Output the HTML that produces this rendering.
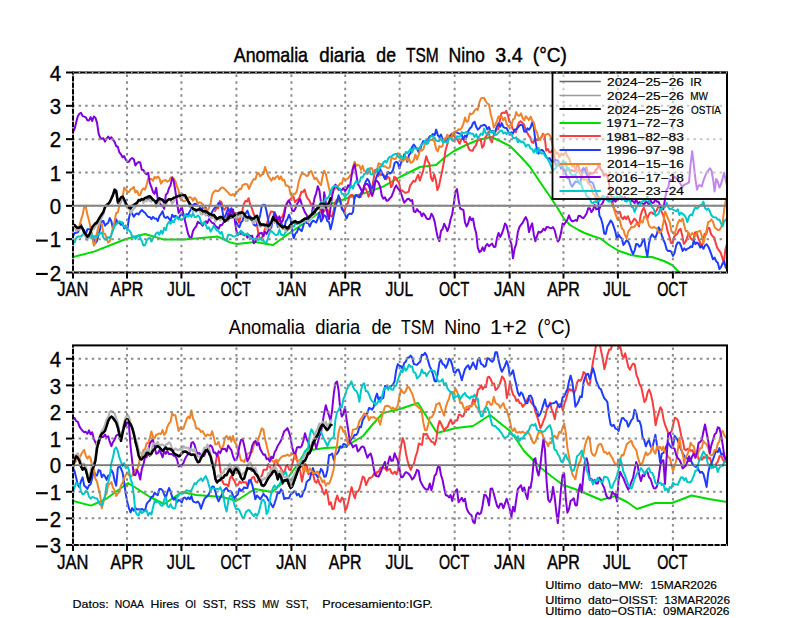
<!DOCTYPE html>
<html><head><meta charset="utf-8"><title>Anomalia diaria de TSM</title><style>
html,body{margin:0;padding:0;background:#fff;}
body{width:800px;height:618px;overflow:hidden;}
svg{display:block;}
text{font-family:"Liberation Sans",sans-serif;fill:#000;white-space:pre;}
.gd{stroke:#8c8c8c;stroke-width:2;stroke-dasharray:2.5 4.04;}
.gh{stroke-dashoffset:0.9;}
.go{stroke:#a8a8a8;stroke-width:2;stroke-dasharray:1.6 4.94;}
.gv{stroke-dashoffset:-2.1;}
.yl{font-size:22.2px;stroke:#000;stroke-width:0.35px;}
.tt1{stroke:#000;stroke-width:0.45px;}
.tt2{stroke:#000;stroke-width:0.1px;}
.xl{stroke:#000;stroke-width:0.45px;}
.ft{stroke:#000;stroke-width:0.2px;}
.lg{stroke:#000;stroke-width:0.2px;}
</style></head><body>
<svg width="800" height="618" viewBox="0 0 800 618">
<defs>
<clipPath id="c1"><rect x="73.00" y="72.50" width="654.00" height="200.00"/></clipPath>
<clipPath id="c2"><rect x="73.00" y="345.40" width="654.00" height="199.60"/></clipPath>
</defs>
<rect width="800" height="618" fill="#fff"/>
<g clip-path="url(#c1)">
<polyline points="73.0,257.0 94.0,251.6 126.0,239.0 145.0,234.0 164.0,239.6 184.0,239.6 218.0,236.6 230.0,242.4 237.0,244.0 255.0,242.0 273.0,245.0 291.0,232.0 300.0,226.0 309.0,220.0 331.0,204.0 353.0,196.0 362.6,193.9 383.0,186.6 400.0,177.0 420.0,167.0 436.0,165.0 444.0,158.0 454.0,151.0 466.0,145.0 478.0,140.0 491.0,137.0 500.0,141.0 510.0,146.0 520.0,156.0 530.0,167.0 540.0,182.0 550.0,196.5 558.0,208.7 564.0,218.8 570.0,225.0 578.5,230.0 584.6,233.0 592.7,236.0 600.8,238.6 609.0,245.0 619.0,251.0 631.0,255.0 643.0,257.0 652.0,257.0 664.0,261.0 672.0,265.0 678.0,271.0 682.0,276.0" fill="none" stroke="#00dc00" stroke-width="2" stroke-linejoin="round" stroke-linecap="round"/>
<polyline points="215.0,211.1 216.6,208.1 218.2,208.3 219.8,201.0 221.4,202.1 223.0,208.6 224.6,209.6 226.2,207.3 227.8,207.3 229.4,213.4 231.0,215.8 232.6,213.5 234.2,212.8 235.8,216.1 237.4,217.2 239.0,222.6 240.6,217.1 242.2,211.1 243.8,204.2 245.4,200.9 247.0,201.5 248.6,198.2 250.2,204.7 251.8,208.1 253.4,213.2 255.0,217.0 256.6,222.0 258.2,232.8 259.8,239.1 261.4,238.9 263.0,235.2 264.6,229.8 266.2,226.7 267.8,220.2 269.4,215.5 271.0,211.5 272.6,211.7 274.2,212.6 275.8,214.6 277.4,219.2 279.0,221.8 280.6,217.8 282.2,217.1 283.8,212.8 285.4,206.1 287.0,203.4 288.6,200.3 290.2,199.4 291.8,197.7 293.4,196.5 295.0,202.2 296.6,200.3 298.2,199.4 299.8,196.9 301.4,191.8 303.0,191.9 304.6,189.6 306.2,195.5 307.8,198.7 309.4,200.4 311.0,204.5 312.6,203.9 314.2,208.3 315.8,210.2 317.4,208.5 319.0,205.8 320.6,210.6 322.2,213.9 323.8,211.5 325.4,209.9 327.0,207.4 328.6,213.4 330.2,215.6 331.8,216.6 333.4,211.9 335.0,203.5 336.6,199.8 338.2,199.7 339.8,197.9 341.4,205.0 343.0,209.8 344.6,211.5 346.2,204.4 347.8,203.5 349.4,196.3 351.0,194.9 352.6,195.0 354.2,199.1 355.8,195.0 357.4,195.3 359.0,195.3 360.6,197.0 362.2,193.3 363.8,189.1 365.4,188.0 367.0,191.6 368.6,196.6 370.2,193.1 371.8,188.5 373.4,180.4 375.0,170.4 376.6,169.3 378.2,176.2 379.8,173.9 381.4,175.1 383.0,174.8 384.6,175.6 386.2,179.3 387.8,176.9 389.4,178.1 391.0,187.2 392.6,185.0 394.2,176.9 395.8,177.7 397.4,180.7 399.0,182.5 400.6,190.4 402.2,190.6 403.8,191.8 405.4,192.9 407.0,192.4 408.6,191.7 410.2,185.3 411.8,183.3 413.4,180.7 415.0,181.8 416.6,178.2 418.2,174.8 419.8,180.6 421.4,175.9 423.0,171.4 424.6,163.7 426.2,156.3 427.8,160.9 429.4,163.9 431.0,177.9 432.6,181.0 434.2,174.3 435.8,179.9 437.4,190.1 439.0,186.0 440.6,178.0 442.2,171.1 443.8,162.3 445.4,151.0 447.0,145.2 448.6,138.9 450.2,135.5 451.8,133.6 453.4,133.7 455.0,137.7 456.6,138.5 458.2,141.2 459.8,143.6 461.4,139.0 463.0,137.7 464.6,142.1 466.2,141.7 467.8,145.9 469.4,149.9 471.0,150.6 472.6,150.8 474.2,147.2 475.8,145.6 477.4,140.8 479.0,139.9 480.6,139.0 482.2,147.7 483.8,145.4 485.4,137.4 487.0,135.0 488.6,131.6 490.2,139.4 491.8,142.4 493.4,136.1 495.0,132.7 496.6,129.3 498.2,129.2 499.8,120.8 501.4,113.4 503.0,112.5 504.6,113.1 506.2,110.9 507.8,114.8 509.4,121.4 511.0,123.1 512.6,128.9 514.2,130.7 515.8,132.2 517.4,126.5 519.0,122.5 520.6,121.2 522.2,122.6 523.8,124.3 525.4,128.7 527.0,132.6 528.6,135.3 530.2,137.4 531.8,142.3 533.4,142.9 535.0,138.1 536.6,139.9 538.2,140.0 539.8,138.6 541.4,137.6 543.0,133.9 544.6,135.4 546.2,150.6 547.8,149.0 549.4,152.3 551.0,152.0 552.6,149.9 554.2,156.3 555.8,165.5 557.4,166.2 559.0,164.5 560.6,165.5 562.2,166.9 563.8,172.0 565.4,172.2 567.0,167.8 568.6,170.4 570.2,170.2 571.8,170.1 573.4,171.2 575.0,171.3 576.6,166.1 578.2,164.5 579.8,171.2 581.4,170.4 583.0,168.5 584.6,169.2 586.2,167.4 587.8,172.7 589.4,175.0 591.0,173.0 592.6,173.5 594.2,172.5 595.8,170.1 597.4,168.6 599.0,163.7 600.6,169.4 602.2,170.7 603.8,175.8 605.4,173.8 607.0,175.1 608.6,180.6 610.2,191.3 611.8,197.7 613.4,206.6 615.0,210.7 616.6,211.7 618.2,212.4 619.8,211.8 621.4,217.2 623.0,219.2 624.6,216.6 626.2,219.1 627.8,216.2 629.4,220.2 631.0,224.0 632.6,221.5 634.2,218.7 635.8,220.1 637.4,222.7 639.0,226.3 640.6,215.5 642.2,210.6 643.8,207.6 645.4,212.3 647.0,219.4 648.6,215.1 650.2,212.5 651.8,212.5 653.4,214.0 655.0,212.4 656.6,210.4 658.2,207.0 659.8,205.6 661.4,211.3 663.0,214.9 664.6,220.2 666.2,224.8 667.8,232.2 669.4,236.5 671.0,242.9 672.6,243.3 674.2,236.5 675.8,234.9 677.4,233.7 679.0,230.1 680.6,228.8 682.2,235.4 683.8,243.8 685.4,242.1 687.0,238.2 688.6,232.9 690.2,237.5 691.8,239.7 693.4,239.5 695.0,232.4 696.6,232.1 698.2,238.1 699.8,241.6 701.4,246.9 703.0,242.5 704.6,233.8 706.2,234.4 707.8,228.3 709.4,228.0 711.0,233.9 712.6,236.3 714.2,237.3 715.8,243.4 717.4,248.1 719.0,250.3 720.6,252.6 722.2,257.3 723.8,263.6 725.4,249.3 727.0,243.8 728.0,240.0" fill="none" stroke="#fa3c3c" stroke-width="2" stroke-linejoin="round" stroke-linecap="round"/>
<polyline points="73.0,236.7 74.6,232.9 76.2,232.9 77.8,232.4 79.4,229.2 81.0,224.3 82.6,228.6 84.2,230.3 85.8,234.1 87.4,229.2 89.0,229.3 90.6,229.2 92.2,237.3 93.8,239.2 95.4,243.3 97.0,240.9 98.6,234.4 100.2,228.5 101.8,221.3 103.4,220.9 105.0,225.7 106.6,223.8 108.2,222.8 109.8,218.1 111.4,221.4 113.0,229.0 114.6,224.4 116.2,219.4 117.8,222.9 119.4,222.6 121.0,224.8 122.6,222.6 124.2,228.5 125.8,226.3 127.4,229.5 129.0,217.8 130.6,211.6 132.2,213.7 133.8,216.8 135.4,214.4 137.0,213.4 138.6,214.4 140.2,211.8 141.8,210.1 143.4,211.6 145.0,212.7 146.6,215.0 148.2,217.0 149.8,217.0 151.4,219.3 153.0,216.9 154.6,218.6 156.2,218.5 157.8,221.0 159.4,216.3 161.0,214.0 162.6,211.2 164.2,217.0 165.8,218.0 167.4,216.7 169.0,218.6 170.6,220.7 172.2,214.8 173.8,216.9 175.4,215.7 177.0,217.2 178.6,219.1 180.2,215.2 181.8,214.2 183.4,215.7 185.0,218.0 186.6,214.3 188.2,214.4 189.8,211.4 191.4,208.6 193.0,205.0 194.6,203.8 196.2,203.9 197.8,205.9 199.4,206.1 201.0,210.0 202.6,207.9 204.2,207.8 205.8,207.8 207.4,213.9 209.0,216.4 210.6,216.0 212.2,211.6 213.8,209.0 215.4,207.3 217.0,206.3 218.6,202.9 220.2,203.4 221.8,207.6 223.4,216.5 225.0,217.0 226.6,212.3 228.2,208.5 229.8,211.2 231.4,208.2 233.0,213.3 234.6,216.2 236.2,221.8 237.8,225.5 239.4,227.2 241.0,222.4 242.6,220.8 244.2,215.0 245.8,213.2 247.4,210.7 249.0,215.5 250.6,216.8 252.2,219.9 253.8,224.6 255.4,225.8 257.0,224.4 258.6,221.0 260.2,214.9 261.8,205.9 263.4,204.7 265.0,205.0 266.6,211.5 268.2,219.9 269.8,229.7 271.4,227.0 273.0,217.2 274.6,212.3 276.2,218.8 277.8,226.9 279.4,225.6 281.0,222.7 282.6,226.4 284.2,229.1 285.8,221.3 287.4,219.1 289.0,214.7 290.6,218.9 292.2,232.7 293.8,238.1 295.4,233.6 297.0,232.0 298.6,227.8 300.2,229.8 301.8,231.1 303.4,225.4 305.0,220.1 306.6,222.9 308.2,223.1 309.8,226.5 311.4,222.7 313.0,220.7 314.6,221.5 316.2,222.5 317.8,218.7 319.4,212.6 321.0,221.5 322.6,218.9 324.2,215.2 325.8,216.3 327.4,221.2 329.0,222.1 330.6,229.3 332.2,222.5 333.8,214.7 335.4,207.3 337.0,201.2 338.6,195.2 340.2,201.2 341.8,208.9 343.4,210.9 345.0,214.2 346.6,218.5 348.2,214.5 349.8,213.6 351.4,214.1 353.0,212.0 354.6,196.9 356.2,195.0 357.8,196.6 359.4,197.4 361.0,193.0 362.6,192.0 364.2,186.3 365.8,181.4 367.4,178.8 369.0,181.0 370.6,187.4 372.2,188.1 373.8,185.0 375.4,180.5 377.0,175.4 378.6,173.3 380.2,169.1 381.8,172.4 383.4,175.8 385.0,179.0 386.6,175.7 388.2,172.0 389.8,173.5 391.4,172.7 393.0,169.9 394.6,163.0 396.2,161.9 397.8,162.6 399.4,168.5 401.0,162.7 402.6,160.3 404.2,154.3 405.8,157.9 407.4,161.8 409.0,154.8 410.6,153.0 412.2,146.8 413.8,144.5 415.4,146.8 417.0,148.6 418.6,152.1 420.2,149.5 421.8,143.9 423.4,141.1 425.0,142.4 426.6,140.9 428.2,138.8 429.8,136.3 431.4,135.8 433.0,134.0 434.6,135.2 436.2,129.6 437.8,135.1 439.4,137.2 441.0,134.5 442.6,139.5 444.2,139.2 445.8,141.0 447.4,138.6 449.0,137.8 450.6,135.5 452.2,136.5 453.8,133.6 455.4,131.6 457.0,132.6 458.6,133.4 460.2,133.8 461.8,134.8 463.4,139.4 465.0,135.6 466.6,137.0 468.2,131.3 469.8,128.6 471.4,127.1 473.0,123.1 474.6,121.9 476.2,126.8 477.8,129.6 479.4,128.2 481.0,125.7 482.6,125.5 484.2,124.7 485.8,125.9 487.4,129.4 489.0,127.0 490.6,131.5 492.2,130.8 493.8,133.2 495.4,130.7 497.0,126.4 498.6,123.3 500.2,126.8 501.8,123.1 503.4,127.1 505.0,127.7 506.6,128.2 508.2,131.4 509.8,134.3 511.4,132.2 513.0,133.5 514.6,129.5 516.2,129.5 517.8,127.6 519.4,125.6 521.0,124.7 522.6,125.4 524.2,131.4 525.8,131.7 527.4,128.4 529.0,129.6 530.6,127.4 532.2,122.5 533.8,127.3 535.4,141.0 537.0,149.4 538.6,153.6 540.2,150.7 541.8,149.8 543.4,151.1 545.0,154.4 546.6,157.6 548.2,158.5 549.8,158.3 551.4,161.4 553.0,162.1 554.6,159.8 556.2,160.3 557.8,160.3 559.4,163.0 561.0,168.7 562.6,166.4 564.2,170.6 565.8,173.4 567.4,178.2 569.0,178.5 570.6,184.0 572.2,186.8 573.8,183.9 575.4,181.6 577.0,181.8 578.6,182.4 580.2,184.2 581.8,173.6 583.4,168.1 585.0,170.0 586.6,174.3 588.2,176.8 589.8,182.0 591.4,182.1 593.0,183.0 594.6,188.3 596.2,192.0 597.8,197.5 599.4,215.6 601.0,218.4 602.6,224.2 604.2,233.6 605.8,233.9 607.4,226.4 609.0,223.7 610.6,220.5 612.2,222.4 613.8,226.9 615.4,231.8 617.0,239.3 618.6,234.5 620.2,237.0 621.8,238.4 623.4,245.0 625.0,242.8 626.6,240.2 628.2,241.5 629.8,245.3 631.4,250.5 633.0,254.0 634.6,250.6 636.2,244.0 637.8,244.2 639.4,246.6 641.0,245.4 642.6,241.2 644.2,239.1 645.8,248.9 647.4,256.5 649.0,243.5 650.6,237.0 652.2,234.3 653.8,236.6 655.4,237.7 657.0,233.6 658.6,227.3 660.2,230.2 661.8,235.3 663.4,239.6 665.0,243.3 666.6,249.3 668.2,251.1 669.8,250.8 671.4,251.9 673.0,255.9 674.6,252.9 676.2,245.4 677.8,242.6 679.4,242.5 681.0,245.7 682.6,251.0 684.2,248.4 685.8,250.2 687.4,248.6 689.0,248.1 690.6,246.3 692.2,247.0 693.8,240.4 695.4,244.1 697.0,242.6 698.6,243.9 700.2,247.5 701.8,245.8 703.4,248.7 705.0,245.5 706.6,244.2 708.2,246.5 709.8,250.2 711.4,254.7 713.0,259.3 714.6,257.6 716.2,261.2 717.8,262.7 719.4,269.1 721.0,267.1 722.6,263.5 724.2,261.3 725.8,267.8 727.4,269.0 728.0,266.0" fill="none" stroke="#1e3cff" stroke-width="2" stroke-linejoin="round" stroke-linecap="round"/>
<polyline points="73.0,224.0 74.6,225.3 76.2,228.6 77.8,228.7 79.4,226.0 81.0,219.9 82.6,215.0 84.2,206.7 85.8,206.8 87.4,214.7 89.0,220.4 90.6,227.5 92.2,236.5 93.8,245.6 95.4,241.9 97.0,232.9 98.6,225.8 100.2,223.0 101.8,224.0 103.4,233.5 105.0,233.8 106.6,238.1 108.2,242.6 109.8,241.3 111.4,234.4 113.0,227.7 114.6,221.3 116.2,212.9 117.8,212.6 119.4,205.6 121.0,201.3 122.6,197.7 124.2,187.6 125.8,189.5 127.4,191.6 129.0,192.1 130.6,189.3 132.2,188.4 133.8,186.9 135.4,192.6 137.0,190.7 138.6,194.9 140.2,194.9 141.8,190.4 143.4,188.3 145.0,189.7 146.6,184.8 148.2,178.2 149.8,179.1 151.4,179.0 153.0,180.8 154.6,176.9 156.2,178.2 157.8,176.5 159.4,178.2 161.0,183.8 162.6,180.9 164.2,180.4 165.8,180.1 167.4,181.7 169.0,180.9 170.6,177.6 172.2,177.3 173.8,178.6 175.4,181.4 177.0,186.5 178.6,190.4 180.2,198.5 181.8,199.5 183.4,201.2 185.0,201.1 186.6,199.7 188.2,197.7 189.8,197.1 191.4,197.8 193.0,200.7 194.6,197.7 196.2,199.4 197.8,203.6 199.4,202.2 201.0,202.7 202.6,204.2 204.2,208.5 205.8,208.9 207.4,210.6 209.0,208.0 210.6,203.2 212.2,194.6 213.8,192.0 215.4,190.5 217.0,191.0 218.6,190.9 220.2,189.0 221.8,187.4 223.4,187.8 225.0,189.4 226.6,191.0 228.2,192.6 229.8,194.6 231.4,195.3 233.0,194.0 234.6,196.2 236.2,191.7 237.8,191.5 239.4,188.9 241.0,189.2 242.6,185.2 244.2,184.3 245.8,184.1 247.4,184.4 249.0,189.0 250.6,185.0 252.2,181.3 253.8,179.1 255.4,179.4 257.0,174.0 258.6,173.0 260.2,176.4 261.8,174.6 263.4,174.0 265.0,166.9 266.6,171.5 268.2,175.9 269.8,178.2 271.4,180.6 273.0,177.6 274.6,179.3 276.2,176.8 277.8,176.0 279.4,179.3 281.0,176.4 282.6,180.4 284.2,179.7 285.8,185.5 287.4,185.6 289.0,186.8 290.6,194.2 292.2,197.1 293.8,193.8 295.4,193.7 297.0,190.6 298.6,182.1 300.2,177.0 301.8,173.4 303.4,173.8 305.0,174.5 306.6,176.1 308.2,175.3 309.8,172.1 311.4,171.1 313.0,175.4 314.6,179.3 316.2,177.8 317.8,180.6 319.4,183.1 321.0,185.2 322.6,176.2 324.2,170.8 325.8,174.1 327.4,181.0 329.0,188.0 330.6,194.6 332.2,189.0 333.8,186.6 335.4,189.0 337.0,187.5 338.6,185.8 340.2,183.2 341.8,183.9 343.4,178.0 345.0,179.2 346.6,179.5 348.2,178.0 349.8,176.3 351.4,173.8 353.0,166.7 354.6,161.7 356.2,166.0 357.8,164.8 359.4,165.7 361.0,170.0 362.6,165.8 364.2,171.1 365.8,171.5 367.4,174.0 369.0,171.2 370.6,168.0 372.2,168.5 373.8,174.8 375.4,172.3 377.0,169.8 378.6,163.2 380.2,164.1 381.8,164.2 383.4,166.4 385.0,166.2 386.6,167.6 388.2,168.1 389.8,167.3 391.4,157.9 393.0,158.3 394.6,159.1 396.2,158.3 397.8,153.2 399.4,153.7 401.0,159.3 402.6,161.1 404.2,159.8 405.8,156.8 407.4,160.5 409.0,158.4 410.6,162.7 412.2,162.2 413.8,160.1 415.4,154.6 417.0,159.5 418.6,154.9 420.2,149.4 421.8,150.6 423.4,149.2 425.0,143.7 426.6,141.9 428.2,141.3 429.8,140.3 431.4,140.1 433.0,139.5 434.6,142.3 436.2,149.0 437.8,151.5 439.4,146.0 441.0,147.0 442.6,145.9 444.2,138.4 445.8,138.3 447.4,134.7 449.0,138.0 450.6,137.5 452.2,135.9 453.8,132.2 455.4,131.5 457.0,131.2 458.6,129.3 460.2,129.7 461.8,127.8 463.4,123.9 465.0,117.5 466.6,121.7 468.2,121.1 469.8,113.4 471.4,114.3 473.0,113.2 474.6,110.6 476.2,108.8 477.8,109.9 479.4,102.4 481.0,98.4 482.6,97.9 484.2,98.0 485.8,101.5 487.4,103.5 489.0,104.6 490.6,113.7 492.2,119.4 493.8,127.6 495.4,124.6 497.0,120.8 498.6,116.4 500.2,117.1 501.8,116.8 503.4,120.2 505.0,117.6 506.6,123.8 508.2,126.6 509.8,125.2 511.4,125.6 513.0,119.4 514.6,118.7 516.2,112.1 517.8,115.3 519.4,115.9 521.0,113.3 522.6,118.1 524.2,120.3 525.8,116.2 527.4,118.1 529.0,120.1 530.6,116.6 532.2,120.7 533.8,122.2 535.4,129.8 537.0,132.6 538.6,138.7 540.2,140.1 541.8,135.6 543.4,135.1 545.0,135.5 546.6,134.4 548.2,133.7 549.8,135.2 551.4,139.4 553.0,147.6 554.6,150.0 556.2,153.9 557.8,152.5 559.4,157.4 561.0,153.5 562.6,155.2 564.2,154.1 565.8,151.7 567.4,156.6 569.0,158.1 570.6,163.1 572.2,166.6 573.8,164.2 575.4,170.4 577.0,170.1 578.6,170.4 580.2,174.2 581.8,173.7 583.4,179.7 585.0,179.2 586.6,179.4 588.2,183.2 589.8,184.3 591.4,186.2 593.0,193.8 594.6,194.2 596.2,200.3 597.8,196.2 599.4,197.1 601.0,199.0 602.6,197.7 604.2,199.0 605.8,197.9 607.4,196.7 609.0,197.2 610.6,198.1 612.2,204.4 613.8,208.5 615.4,213.5 617.0,218.4 618.6,217.4 620.2,221.9 621.8,228.5 623.4,229.8 625.0,235.1 626.6,238.2 628.2,231.6 629.8,229.4 631.4,227.1 633.0,227.3 634.6,226.5 636.2,223.7 637.8,225.0 639.4,223.5 641.0,220.9 642.6,222.6 644.2,216.6 645.8,216.5 647.4,219.5 649.0,225.5 650.6,227.5 652.2,227.8 653.8,226.8 655.4,228.0 657.0,228.5 658.6,232.5 660.2,232.7 661.8,230.4 663.4,222.2 665.0,211.4 666.6,214.8 668.2,219.2 669.8,222.2 671.4,231.3 673.0,232.5 674.6,234.2 676.2,228.8 677.8,223.3 679.4,220.0 681.0,221.3 682.6,218.5 684.2,225.3 685.8,231.3 687.4,231.1 689.0,235.4 690.6,235.4 692.2,233.1 693.8,234.6 695.4,236.3 697.0,232.3 698.6,231.4 700.2,230.8 701.8,235.9 703.4,243.4 705.0,236.5 706.6,230.3 708.2,221.9 709.8,221.5 711.4,219.4 713.0,221.9 714.6,227.3 716.2,228.6 717.8,229.9 719.4,230.0 721.0,227.5 722.6,223.4 724.2,209.5 725.8,200.1 727.0,196.0" fill="none" stroke="#f08228" stroke-width="2" stroke-linejoin="round" stroke-linecap="round"/>
<polyline points="73.0,132.0 74.6,128.7 76.2,122.6 77.8,116.3 79.4,113.8 81.0,112.7 82.6,116.1 84.2,116.6 85.8,117.3 87.4,120.3 89.0,120.4 90.6,117.1 92.2,121.0 93.8,116.5 95.4,117.8 97.0,122.6 98.6,133.3 100.2,137.8 101.8,138.8 103.4,138.2 105.0,141.6 106.6,138.5 108.2,136.5 109.8,138.9 111.4,137.2 113.0,139.7 114.6,141.9 116.2,146.2 117.8,146.8 119.4,152.4 121.0,154.4 122.6,157.3 124.2,156.1 125.8,159.8 127.4,162.2 129.0,161.5 130.6,159.0 132.2,158.1 133.8,159.3 135.4,165.5 137.0,163.2 138.6,162.0 140.2,162.4 141.8,169.8 143.4,170.0 145.0,173.1 146.6,174.3 148.2,172.8 149.8,183.1 151.4,187.1 153.0,192.0 154.6,193.7 156.2,187.8 157.8,199.4 159.4,201.2 161.0,205.7 162.6,205.5 164.2,208.8 165.8,194.9 167.4,193.2 169.0,188.2 170.6,185.1 172.2,177.6 173.8,181.3 175.4,191.2 177.0,202.6 178.6,212.9 180.2,210.3 181.8,207.0 183.4,214.2 185.0,220.7 186.6,227.4 188.2,234.3 189.8,237.5 191.4,237.8 193.0,231.0 194.6,228.2 196.2,226.3 197.8,221.8 199.4,223.1 201.0,223.6 202.6,225.7 204.2,222.7 205.8,221.2 207.4,223.0 209.0,219.0 210.6,221.0 212.2,223.0 213.8,223.2 215.4,226.2 217.0,227.2 218.6,228.8 220.2,225.0 221.8,225.3 223.4,222.8 225.0,219.5 226.6,220.7 228.2,213.5 229.8,215.3 231.4,211.1 233.0,209.4 234.6,219.0 236.2,229.9 237.8,235.3 239.4,233.0 241.0,234.0 242.6,232.4 244.2,235.3 245.8,234.6 247.4,237.6 249.0,235.2 250.6,236.1 252.2,235.8 253.8,243.3 255.4,241.7 257.0,236.5 258.6,234.2 260.2,233.2 261.8,232.8 263.4,236.3 265.0,231.8 266.6,233.9 268.2,230.6 269.8,227.9 271.4,223.9 273.0,219.2 274.6,216.3 276.2,216.1 277.8,219.4 279.4,216.4 281.0,223.0 282.6,220.9 284.2,215.3 285.8,206.0 287.4,202.5 289.0,200.7 290.6,204.3 292.2,210.8 293.8,211.1 295.4,208.6 297.0,204.2 298.6,201.6 300.2,199.1 301.8,204.6 303.4,208.6 305.0,212.4 306.6,214.8 308.2,220.6 309.8,219.2 311.4,216.5 313.0,206.1 314.6,197.7 316.2,193.3 317.8,186.2 319.4,190.6 321.0,202.6 322.6,217.7 324.2,192.3 325.8,202.1 327.4,214.5 329.0,219.2 330.6,207.0 332.2,195.4 333.8,189.3 335.4,184.6 337.0,186.4 338.6,189.7 340.2,189.4 341.8,190.3 343.4,188.0 345.0,191.1 346.6,189.2 348.2,185.2 349.8,187.8 351.4,176.9 353.0,168.4 354.6,164.3 356.2,173.6 357.8,183.9 359.4,186.2 361.0,189.5 362.6,192.7 364.2,185.7 365.8,183.9 367.4,184.1 369.0,186.1 370.6,191.4 372.2,195.9 373.8,190.8 375.4,181.0 377.0,180.9 378.6,182.9 380.2,186.9 381.8,195.7 383.4,198.7 385.0,197.3 386.6,200.8 388.2,200.3 389.8,198.4 391.4,196.8 393.0,192.9 394.6,188.2 396.2,185.4 397.8,188.4 399.4,190.2 401.0,193.0 402.6,198.2 404.2,202.7 405.8,200.9 407.4,198.9 409.0,198.7 410.6,201.0 412.2,200.1 413.8,211.4 415.4,212.1 417.0,209.1 418.6,211.3 420.2,212.1 421.8,216.2 423.4,213.3 425.0,215.3 426.6,218.5 428.2,219.1 429.8,218.7 431.4,213.8 433.0,216.3 434.6,221.4 436.2,230.1 437.8,237.5 439.4,241.1 441.0,230.9 442.6,229.0 444.2,223.8 445.8,227.1 447.4,231.1 449.0,226.8 450.6,219.3 452.2,214.4 453.8,203.8 455.4,191.7 457.0,189.1 458.6,200.1 460.2,208.5 461.8,209.3 463.4,209.9 465.0,222.3 466.6,226.5 468.2,223.2 469.8,217.0 471.4,220.0 473.0,218.5 474.6,227.5 476.2,233.2 477.8,247.7 479.4,252.2 481.0,251.0 482.6,247.4 484.2,250.9 485.8,245.6 487.4,244.0 489.0,246.2 490.6,244.7 492.2,243.6 493.8,246.9 495.4,246.7 497.0,238.1 498.6,232.9 500.2,237.0 501.8,233.8 503.4,229.2 505.0,223.4 506.6,225.8 508.2,232.6 509.8,239.7 511.4,244.0 513.0,258.3 514.6,248.6 516.2,244.0 517.8,232.3 519.4,227.1 521.0,224.7 522.6,223.0 524.2,219.6 525.8,217.1 527.4,220.7 529.0,232.1 530.6,226.9 532.2,223.4 533.8,234.4 535.4,241.3 537.0,236.0 538.6,231.7 540.2,232.6 541.8,231.4 543.4,228.7 545.0,230.4 546.6,227.0 548.2,227.2 549.8,227.9 551.4,228.2 553.0,227.1 554.6,230.1 556.2,236.6 557.8,241.5 559.4,239.6 561.0,232.8 562.6,223.6 564.2,224.6 565.8,222.0 567.4,219.7 569.0,215.4 570.6,219.5 572.2,221.4 573.8,221.0 575.4,220.0 577.0,220.8 578.6,215.7 580.2,215.9 581.8,217.5 583.4,218.1 585.0,216.1 586.6,213.5 588.2,208.3 589.8,208.3 591.4,212.1 593.0,209.9 594.6,205.0 596.2,209.4 597.8,208.8 599.4,208.9 601.0,205.1 602.6,203.0 604.2,199.2 605.8,198.9 607.4,196.6 609.0,200.3 610.6,200.5 612.2,201.6 613.8,199.7 615.4,201.7 617.0,199.6 618.6,197.8 620.2,197.3 621.8,196.8 623.4,199.0 625.0,197.0 626.6,199.5 628.2,198.2 629.8,200.3 631.4,200.7 633.0,201.2 634.6,203.2 636.2,199.1 637.8,203.7 639.4,202.1 641.0,202.9 642.6,203.5 644.2,204.4 645.8,201.9 647.4,202.2 649.0,205.0 650.6,200.4 652.2,203.0 653.8,202.6 655.4,199.1 657.0,201.8 658.6,201.8 660.2,205.7 661.8,209.0 663.4,209.2 665.0,198.8 666.6,189.7 668.2,187.7 669.8,179.2 671.4,180.7 673.0,179.2 674.6,176.6 676.2,178.3 677.8,178.4 679.4,182.1 681.0,184.8 682.6,186.9 684.2,184.7 685.8,184.1 687.4,183.4 689.0,182.3 690.6,163.8 692.2,151.2 693.8,165.0 695.4,178.8 697.0,189.6 698.6,185.5 700.2,185.2 701.8,186.6 703.4,180.6 705.0,176.5 706.6,172.5 708.2,170.8 709.8,168.4 711.4,170.2 713.0,178.7 714.6,191.4 716.2,178.9 717.8,181.8 719.4,187.6 721.0,184.2 722.6,178.5 724.2,172.6 725.8,181.1 727.0,185.0" fill="none" stroke="#8200dc" stroke-width="2" stroke-linejoin="round" stroke-linecap="round"/>
<polyline points="73.0,241.4 74.6,242.4 76.2,238.0 77.8,236.5 79.4,236.5 81.0,236.5 82.6,234.6 84.2,234.6 85.8,234.7 87.4,236.1 89.0,236.8 90.6,237.8 92.2,235.1 93.8,237.2 95.4,235.9 97.0,237.2 98.6,233.5 100.2,233.6 101.8,232.6 103.4,237.5 105.0,239.6 106.6,239.5 108.2,237.1 109.8,237.9 111.4,234.7 113.0,230.3 114.6,226.0 116.2,224.3 117.8,223.0 119.4,221.2 121.0,222.1 122.6,223.6 124.2,227.3 125.8,225.4 127.4,230.5 129.0,230.1 130.6,232.3 132.2,236.7 133.8,236.3 135.4,238.9 137.0,237.0 138.6,235.1 140.2,237.7 141.8,241.2 143.4,245.4 145.0,245.3 146.6,240.6 148.2,238.6 149.8,237.8 151.4,241.5 153.0,238.3 154.6,235.9 156.2,233.3 157.8,232.2 159.4,234.7 161.0,230.7 162.6,233.8 164.2,227.7 165.8,230.1 167.4,224.3 169.0,221.7 170.6,223.8 172.2,220.6 173.8,222.3 175.4,218.3 177.0,216.4 178.6,219.4 180.2,219.1 181.8,219.8 183.4,218.5 185.0,214.3 186.6,216.5 188.2,216.5 189.8,214.8 191.4,216.9 193.0,213.0 194.6,217.0 196.2,217.3 197.8,215.3 199.4,216.9 201.0,221.8 202.6,224.3 204.2,222.0 205.8,224.8 207.4,228.6 209.0,227.3 210.6,231.6 212.2,228.8 213.8,225.8 215.4,228.4 217.0,230.6 218.6,231.1 220.2,233.6 221.8,232.0 223.4,238.3 225.0,239.3 226.6,240.4 228.2,234.8 229.8,234.8 231.4,235.2 233.0,236.5 234.6,236.5 236.2,235.5 237.8,234.3 239.4,232.7 241.0,230.7 242.6,234.7 244.2,233.7 245.8,235.1 247.4,233.3 249.0,235.6 250.6,238.3 252.2,238.9 253.8,239.3 255.4,238.8 257.0,238.6 258.6,240.2 260.2,238.0 261.8,240.4 263.4,240.6 265.0,242.6 266.6,242.5 268.2,237.2 269.8,232.1 271.4,231.0 273.0,232.6 274.6,234.3 276.2,235.0 277.8,234.6 279.4,229.8 281.0,234.7 282.6,235.4 284.2,234.7 285.8,231.6 287.4,228.3 289.0,229.3 290.6,227.1 292.2,225.8 293.8,226.7 295.4,223.5 297.0,221.8 298.6,223.5 300.2,223.9 301.8,220.0 303.4,222.1 305.0,222.2 306.6,217.8 308.2,218.7 309.8,217.8 311.4,215.2 313.0,211.5 314.6,209.3 316.2,210.1 317.8,208.7 319.4,205.4 321.0,201.9 322.6,204.0 324.2,202.2 325.8,197.8 327.4,198.6 329.0,196.3 330.6,191.5 332.2,188.0 333.8,186.1 335.4,186.0 337.0,185.9 338.6,187.9 340.2,189.4 341.8,193.8 343.4,194.1 345.0,197.1 346.6,194.8 348.2,193.7 349.8,188.6 351.4,185.2 353.0,188.6 354.6,183.7 356.2,181.1 357.8,182.7 359.4,182.5 361.0,177.3 362.6,177.4 364.2,174.0 365.8,173.3 367.4,169.1 369.0,168.5 370.6,174.2 372.2,174.4 373.8,173.3 375.4,172.5 377.0,169.3 378.6,170.5 380.2,166.2 381.8,166.4 383.4,162.4 385.0,160.9 386.6,162.5 388.2,158.7 389.8,156.7 391.4,156.4 393.0,155.0 394.6,154.2 396.2,153.7 397.8,156.3 399.4,157.9 401.0,155.8 402.6,158.3 404.2,157.9 405.8,151.9 407.4,153.1 409.0,151.0 410.6,148.7 412.2,152.3 413.8,147.8 415.4,148.6 417.0,148.2 418.6,149.1 420.2,146.7 421.8,144.2 423.4,143.5 425.0,140.9 426.6,144.0 428.2,143.1 429.8,138.0 431.4,136.0 433.0,136.9 434.6,137.7 436.2,140.8 437.8,141.1 439.4,141.2 441.0,137.6 442.6,142.0 444.2,142.1 445.8,141.5 447.4,143.0 449.0,137.9 450.6,138.0 452.2,140.6 453.8,141.0 455.4,139.1 457.0,136.3 458.6,136.7 460.2,136.5 461.8,132.1 463.4,133.1 465.0,132.7 466.6,132.0 468.2,134.0 469.8,132.9 471.4,133.8 473.0,133.8 474.6,137.1 476.2,134.2 477.8,138.4 479.4,136.2 481.0,133.6 482.6,135.0 484.2,128.6 485.8,133.2 487.4,133.6 489.0,134.3 490.6,130.8 492.2,132.7 493.8,130.9 495.4,135.2 497.0,134.3 498.6,132.4 500.2,130.8 501.8,130.6 503.4,133.5 505.0,132.4 506.6,134.0 508.2,132.2 509.8,133.5 511.4,133.4 513.0,137.9 514.6,138.2 516.2,137.3 517.8,142.3 519.4,140.3 521.0,142.0 522.6,141.5 524.2,142.9 525.8,146.7 527.4,144.8 529.0,145.3 530.6,148.6 532.2,149.1 533.8,152.5 535.4,148.8 537.0,153.2 538.6,148.0 540.2,152.4 541.8,153.6 543.4,152.9 545.0,155.9 546.6,157.1 548.2,160.1 549.8,163.0 551.4,167.1 553.0,170.6 554.6,169.0 556.2,167.7 557.8,162.6 559.4,162.9 561.0,166.1 562.6,161.7 564.2,163.0 565.8,162.1 567.4,170.6 569.0,168.0 570.6,174.4 572.2,174.9 573.8,176.8 575.4,174.2 577.0,178.8 578.6,181.1 580.2,182.5 581.8,186.2 583.4,191.1 585.0,191.1 586.6,196.4 588.2,197.2 589.8,198.4 591.4,202.5 593.0,203.2 594.6,201.6 596.2,202.1 597.8,200.9 599.4,201.3 601.0,198.4 602.6,196.1 604.2,196.4 605.8,199.3 607.4,200.5 609.0,201.7 610.6,201.3 612.2,198.7 613.8,196.9 615.4,199.3 617.0,196.5 618.6,198.6 620.2,195.5 621.8,199.8 623.4,197.8 625.0,201.0 626.6,201.7 628.2,200.3 629.8,199.4 631.4,206.8 633.0,207.2 634.6,212.0 636.2,207.7 637.8,204.8 639.4,206.1 641.0,202.9 642.6,201.1 644.2,200.7 645.8,200.2 647.4,196.5 649.0,201.7 650.6,203.7 652.2,207.4 653.8,209.1 655.4,215.8 657.0,214.8 658.6,213.5 660.2,209.1 661.8,209.4 663.4,206.1 665.0,207.2 666.6,202.8 668.2,207.2 669.8,209.3 671.4,208.5 673.0,209.5 674.6,210.4 676.2,211.2 677.8,209.3 679.4,215.0 681.0,212.6 682.6,213.9 684.2,215.1 685.8,217.5 687.4,222.0 689.0,216.6 690.6,214.5 692.2,215.3 693.8,210.3 695.4,207.4 697.0,208.8 698.6,207.1 700.2,205.2 701.8,204.6 703.4,201.6 705.0,208.0 706.6,209.7 708.2,208.5 709.8,211.3 711.4,215.3 713.0,217.0 714.6,217.4 716.2,217.5 717.8,219.8 719.4,219.4 721.0,223.3 722.6,226.3 724.2,220.7 725.8,220.2 727.0,218.0" fill="none" stroke="#00c8c8" stroke-width="2" stroke-linejoin="round" stroke-linecap="round"/>
<polyline points="73.0,227.7 74.6,227.4 76.2,231.2 77.8,229.9 79.4,229.6 81.0,229.0 82.6,228.7 84.2,234.4 85.8,236.9 87.4,240.3 89.0,234.9 90.6,232.8 92.2,226.9 93.8,229.0 95.4,226.4 97.0,221.7 98.6,224.1 100.2,221.2 101.8,217.1 103.4,214.5 105.0,207.2 106.6,204.4 108.2,205.9 109.8,201.6 111.4,198.7 113.0,195.4 114.6,189.1 116.2,192.5 117.8,203.3 119.4,204.0 121.0,199.5 122.6,199.3 124.2,201.4 125.8,205.8 127.4,208.1 129.0,208.3 130.6,213.1 132.2,210.8 133.8,208.7 135.4,207.0 137.0,203.7 138.6,200.5 140.2,201.1 141.8,198.7 143.4,203.0 145.0,199.3 146.6,201.3 148.2,198.0 149.8,200.9 151.4,201.6 153.0,199.0 154.6,201.2 156.2,207.0 157.8,201.6 159.4,202.9 161.0,200.7 162.6,199.4 164.2,204.8 165.8,205.6 167.4,201.0 169.0,199.0 170.6,200.3 172.2,203.6 173.8,201.3 175.4,197.3 177.0,197.2 178.6,195.6 180.2,194.9 181.8,198.3 183.4,195.1 185.0,197.5 186.6,199.9 188.2,201.3 189.8,207.1 191.4,206.2 193.0,211.6 194.6,209.3 196.2,212.0 197.8,210.0 199.4,210.0 201.0,214.5 202.6,214.4 204.2,211.9 205.8,215.6 207.4,212.5 209.0,214.9 210.6,218.1 212.2,218.1 213.8,214.7 215.4,221.5 217.0,219.4 218.6,218.5 220.2,220.4 221.8,218.1 223.4,219.6 225.0,221.1 226.6,219.5 228.2,221.1 229.8,216.7 231.4,218.1 233.0,218.0 234.6,216.8 236.2,218.1 237.8,215.3 239.4,215.1 241.0,216.5 242.6,212.6 244.2,213.9 245.8,220.8 247.4,221.1 249.0,217.9 250.6,218.3 252.2,221.8 253.8,223.0 255.4,217.1 257.0,220.2 258.6,224.6 260.2,226.6 261.8,226.0 263.4,224.3 265.0,224.3 266.6,229.6 268.2,226.8 269.8,228.0 271.4,222.7 273.0,221.1 274.6,222.9 276.2,221.1 277.8,223.5 279.4,227.8 281.0,225.6 282.6,227.4 284.2,228.6 285.8,231.0 287.4,230.8 289.0,227.5 290.6,229.0 292.2,223.2 293.8,221.1 295.4,221.8 297.0,224.1 298.6,221.9 300.2,222.1 301.8,222.3 303.4,222.0 305.0,218.6 306.6,220.0 308.2,222.0 309.8,220.6 311.4,217.5 313.0,215.9 314.6,214.4 316.2,209.5 317.8,207.3 319.4,205.2 321.0,208.0 322.6,207.3 324.2,208.4 325.8,205.8 327.4,207.6 329.0,204.8 330.6,201.7" fill="none" stroke="#b4b4b4" stroke-width="2.2" stroke-linejoin="round" stroke-linecap="round"/>
<polyline points="73.0,226.7 74.6,226.4 76.2,228.1 77.8,227.7 79.4,226.7 81.0,226.9 82.6,228.6 84.2,234.1 85.8,235.6 87.4,237.7 89.0,236.2 90.6,233.2 92.2,226.9 93.8,225.9 95.4,223.1 97.0,224.4 98.6,218.8 100.2,218.4 101.8,213.7 103.4,213.3 105.0,207.4 106.6,205.6 108.2,205.6 109.8,201.3 111.4,197.8 113.0,197.0 114.6,190.5 116.2,190.2 117.8,204.0 119.4,202.3 121.0,196.9 122.6,197.1 124.2,199.1 125.8,203.1 127.4,207.5 129.0,207.3 130.6,209.7 132.2,205.4 133.8,204.6 135.4,205.6 137.0,203.3 138.6,200.5 140.2,201.3 141.8,199.8 143.4,199.9 145.0,197.2 146.6,198.9 148.2,198.9 149.8,198.6 151.4,199.0 153.0,200.1 154.6,201.2 156.2,204.1 157.8,201.1 159.4,197.8 161.0,199.2 162.6,200.2 164.2,202.9 165.8,203.8 167.4,201.1 169.0,198.6 170.6,201.1 172.2,199.6 173.8,198.7 175.4,197.3 177.0,197.2 178.6,196.3 180.2,197.1 181.8,194.2 183.4,195.9 185.0,194.9 186.6,199.7 188.2,200.4 189.8,203.9 191.4,206.5 193.0,210.0 194.6,208.8 196.2,211.1 197.8,209.5 199.4,209.4 201.0,210.6 202.6,212.9 204.2,211.8 205.8,213.7 207.4,211.9 209.0,215.7 210.6,214.4 212.2,215.1 213.8,216.5 215.4,218.9 217.0,218.2 218.6,217.9 220.2,218.6 221.8,217.3 223.4,218.7 225.0,220.7 226.6,219.1 228.2,219.8 229.8,218.5 231.4,217.9 233.0,217.6 234.6,214.4 236.2,213.8 237.8,215.1 239.4,214.5 241.0,213.7 242.6,212.4 244.2,214.7 245.8,217.2 247.4,218.5 249.0,217.3 250.6,220.3 252.2,220.6 253.8,218.3 255.4,217.0 257.0,217.7 258.6,220.5 260.2,226.3 261.8,225.3 263.4,225.9 265.0,226.4 266.6,224.9 268.2,226.4 269.8,224.8 271.4,223.4 273.0,218.7 274.6,220.0 276.2,222.2 277.8,223.9 279.4,224.5 281.0,226.6 282.6,229.3 284.2,227.3 285.8,228.2 287.4,230.3 289.0,229.0 290.6,226.2 292.2,223.4 293.8,222.9 295.4,223.2 297.0,224.2 298.6,223.4 300.2,222.2 301.8,221.4 303.4,221.1 305.0,219.6 306.6,218.0 308.2,219.3 309.8,218.0 311.4,216.3 313.0,214.9 314.6,214.0 316.2,210.4 317.8,209.7 319.4,206.3 321.0,203.2 322.6,204.5 324.2,204.0 325.8,208.7 327.4,206.2 329.0,203.9 330.6,199.6" fill="none" stroke="#303030" stroke-width="1" stroke-linejoin="round" stroke-linecap="round"/>
<polyline points="73.0,226.0 74.6,225.1 76.2,226.8 77.8,228.1 79.4,227.5 81.0,226.5 82.6,228.5 84.2,232.3 85.8,234.2 87.4,236.6 89.0,235.2 90.6,231.9 92.2,227.2 93.8,225.3 95.4,223.3 97.0,222.3 98.6,219.4 100.2,216.6 101.8,214.2 103.4,211.9 105.0,207.1 106.6,205.1 108.2,203.7 109.8,202.1 111.4,198.4 113.0,194.8 114.6,189.7 116.2,190.7 117.8,201.7 119.4,200.0 121.0,197.4 122.6,196.5 124.2,199.4 125.8,202.9 127.4,206.3 129.0,207.6 130.6,208.3 132.2,206.1 133.8,204.8 135.4,203.8 137.0,202.8 138.6,200.0 140.2,200.2 141.8,199.1 143.4,199.5 145.0,197.9 146.6,197.4 148.2,196.6 149.8,196.3 151.4,197.7 153.0,199.8 154.6,200.8 156.2,202.7 157.8,199.8 159.4,198.2 161.0,199.3 162.6,199.8 164.2,202.1 165.8,202.0 167.4,200.3 169.0,199.3 170.6,199.3 172.2,199.0 173.8,197.8 175.4,197.4 177.0,196.6 178.6,195.9 180.2,195.4 181.8,194.6 183.4,195.0 185.0,195.2 186.6,198.2 188.2,201.1 189.8,203.8 191.4,206.2 193.0,208.8 194.6,209.4 196.2,210.4 197.8,209.7 199.4,209.3 201.0,209.9 202.6,210.7 204.2,211.0 205.8,211.4 207.4,212.1 209.0,213.5 210.6,214.1 212.2,215.3 213.8,214.9 215.4,216.8 217.0,219.0 218.6,217.9 220.2,216.9 221.8,217.0 223.4,218.8 225.0,221.5 226.6,219.8 228.2,218.6 229.8,216.1 231.4,215.5 233.0,216.7 234.6,215.1 236.2,213.5 237.8,213.4 239.4,212.7 241.0,212.5 242.6,212.4 244.2,213.9 245.8,216.5 247.4,217.3 249.0,217.3 250.6,218.1 252.2,218.5 253.8,218.6 255.4,216.8 257.0,215.7 258.6,220.4 260.2,224.0 261.8,224.5 263.4,224.5 265.0,224.9 266.6,225.0 268.2,226.2 269.8,224.8 271.4,222.0 273.0,217.3 274.6,220.3 276.2,220.2 277.8,223.3 279.4,224.6 281.0,226.0 282.6,226.9 284.2,226.3 285.8,227.0 287.4,228.2 289.0,226.7 290.6,224.6 292.2,222.9 293.8,221.8 295.4,221.1 297.0,222.4 298.6,222.4 300.2,221.9 301.8,221.0 303.4,219.6 305.0,218.6 306.6,218.8 308.2,217.8 309.8,215.9 311.4,214.6 313.0,212.9 314.6,211.9 316.2,209.5 317.8,208.0 319.4,205.9 321.0,203.7 322.6,204.1 324.2,203.8 325.8,206.5 327.4,204.8 329.0,202.9 330.6,198.4" fill="none" stroke="#000000" stroke-width="2.5" stroke-linejoin="round" stroke-linecap="round"/>
</g>
<g clip-path="url(#c2)">
<polyline points="73.0,501.0 91.0,505.6 106.0,499.0 128.0,483.0 136.0,488.0 150.0,497.0 164.0,504.0 182.0,492.0 196.0,495.0 210.0,496.0 222.0,497.0 230.0,499.0 236.0,501.0 255.0,489.0 272.0,492.0 287.0,479.0 297.0,465.0 307.0,449.0 311.0,450.0 325.0,448.0 345.0,447.0 353.0,442.0 363.0,436.0 373.0,424.0 383.0,413.0 400.0,409.0 418.0,403.0 437.0,433.0 456.0,428.0 473.0,426.0 490.0,415.0 510.0,431.0 516.0,439.0 524.0,451.0 534.0,461.0 541.0,468.0 551.0,476.0 563.0,485.0 575.0,489.0 587.0,494.0 601.0,500.0 615.0,496.0 627.0,502.0 637.0,509.0 655.0,503.0 672.0,503.0 691.6,495.5 708.8,499.0 727.0,502.0" fill="none" stroke="#00dc00" stroke-width="2" stroke-linejoin="round" stroke-linecap="round"/>
<polyline points="214.0,469.6 215.6,463.3 217.2,454.1 218.8,457.8 220.4,470.7 222.0,480.0 223.6,483.8 225.2,484.6 226.8,484.4 228.4,486.3 230.0,478.4 231.6,475.9 233.2,478.9 234.8,481.6 236.4,485.7 238.0,484.8 239.6,481.6 241.2,483.1 242.8,481.7 244.4,482.5 246.0,482.2 247.6,485.8 249.2,483.3 250.8,479.9 252.4,477.5 254.0,477.0 255.6,481.7 257.2,482.5 258.8,479.1 260.4,476.8 262.0,475.6 263.6,469.8 265.2,469.7 266.8,469.6 268.4,464.1 270.0,466.1 271.6,472.7 273.2,468.7 274.8,461.7 276.4,459.9 278.0,465.1 279.6,466.1 281.2,468.9 282.8,471.9 284.4,472.2 286.0,466.6 287.6,464.8 289.2,469.8 290.8,469.9 292.4,463.4 294.0,457.4 295.6,454.1 297.2,460.5 298.8,466.7 300.4,471.8 302.0,481.6 303.6,473.3 305.2,463.8 306.8,465.7 308.4,474.1 310.0,473.3 311.6,474.3 313.2,474.4 314.8,481.3 316.4,482.9 318.0,479.4 319.6,484.1 321.2,486.0 322.8,491.8 324.4,494.5 326.0,489.8 327.6,494.6 329.2,504.6 330.8,502.2 332.4,509.2 334.0,508.5 335.6,500.6 337.2,495.6 338.8,500.3 340.4,501.9 342.0,497.6 343.6,499.5 345.2,510.6 346.8,507.9 348.4,501.5 350.0,493.9 351.6,487.1 353.2,493.3 354.8,498.3 356.4,491.7 358.0,491.5 359.6,488.5 361.2,482.5 362.8,476.6 364.4,477.7 366.0,485.1 367.6,481.3 369.2,478.1 370.8,477.8 372.4,476.7 374.0,473.4 375.6,475.6 377.2,471.8 378.8,471.7 380.4,467.8 382.0,467.6 383.6,467.8 385.2,468.4 386.8,470.8 388.4,469.4 390.0,469.0 391.6,473.1 393.2,473.7 394.8,471.6 396.4,474.3 398.0,470.4 399.6,455.6 401.2,444.9 402.8,438.1 404.4,443.3 406.0,453.5 407.6,461.0 409.2,466.4 410.8,469.9 412.4,465.7 414.0,463.5 415.6,456.5 417.2,452.1 418.8,443.5 420.4,444.2 422.0,444.8 423.6,433.8 425.2,434.5 426.8,433.8 428.4,437.8 430.0,439.4 431.6,441.9 433.2,442.3 434.8,444.8 436.4,438.9 438.0,426.2 439.6,420.9 441.2,423.8 442.8,427.5 444.4,430.4 446.0,427.9 447.6,426.9 449.2,422.6 450.8,419.5 452.4,423.9 454.0,422.9 455.6,420.6 457.2,420.5 458.8,414.7 460.4,414.7 462.0,416.7 463.6,415.8 465.2,410.3 466.8,409.4 468.4,409.6 470.0,405.7 471.6,406.2 473.2,399.3 474.8,402.1 476.4,397.4 478.0,389.6 479.6,388.6 481.2,385.2 482.8,389.3 484.4,387.0 486.0,387.1 487.6,377.5 489.2,376.7 490.8,379.3 492.4,383.4 494.0,383.5 495.6,390.1 497.2,388.5 498.8,386.3 500.4,382.2 502.0,376.5 503.6,378.2 505.2,382.2 506.8,398.0 508.4,391.9 510.0,382.0 511.6,389.9 513.2,395.0 514.8,396.5 516.4,401.1 518.0,399.4 519.6,403.0 521.2,403.4 522.8,406.8 524.4,404.7 526.0,403.0 527.6,398.7 529.2,398.5 530.8,402.2 532.4,404.1 534.0,405.7 535.6,412.5 537.2,416.7 538.8,422.1 540.4,427.9 542.0,425.1 543.6,420.3 545.2,416.5 546.8,409.5 548.4,407.0 550.0,402.6 551.6,409.1 553.2,412.9 554.8,419.2 556.4,409.3 558.0,405.2 559.6,404.3 561.2,404.1 562.8,410.4 564.4,403.6 566.0,399.7 567.6,393.1 569.2,388.7 570.8,390.7 572.4,389.3 574.0,393.4 575.6,389.8 577.2,382.3 578.8,379.8 580.4,381.0 582.0,378.0 583.6,372.0 585.2,373.4 586.8,381.2 588.4,384.7 590.0,383.3 591.6,370.8 593.2,360.6 594.8,352.9 596.4,342.5 598.0,342.7 599.6,343.2 601.2,351.4 602.8,359.2 604.4,369.1 606.0,362.4 607.6,354.5 609.2,349.5 610.8,349.4 612.4,344.4 614.0,341.0 615.6,342.3 617.2,343.2 618.8,348.3 620.4,346.9 622.0,355.2 623.6,357.9 625.2,353.4 626.8,360.3 628.4,367.2 630.0,369.6 631.6,365.8 633.2,363.5 634.8,364.6 636.4,374.9 638.0,378.6 639.6,384.4 641.2,386.9 642.8,394.3 644.4,402.0 646.0,399.7 647.6,392.4 649.2,389.5 650.8,393.9 652.4,401.0 654.0,411.1 655.6,425.2 657.2,417.7 658.8,412.4 660.4,407.2 662.0,410.1 663.6,419.7 665.2,425.1 666.8,429.2 668.4,433.7 670.0,433.0 671.6,431.2 673.2,424.2 674.8,417.8 676.4,418.4 678.0,420.5 679.6,427.4 681.2,435.7 682.8,440.5 684.4,449.2 686.0,450.2 687.6,448.8 689.2,449.3 690.8,450.7 692.4,450.3 694.0,454.3 695.6,452.8 697.2,454.4 698.8,459.9 700.4,458.4 702.0,459.7 703.6,456.9 705.2,457.8 706.8,455.0 708.4,458.5 710.0,457.8 711.6,463.7 713.2,467.7 714.8,466.0 716.4,463.4 718.0,461.3 719.6,456.0 721.2,455.9 722.8,459.5 724.4,462.0 726.0,461.1 727.0,462.0" fill="none" stroke="#fa3c3c" stroke-width="2" stroke-linejoin="round" stroke-linecap="round"/>
<polyline points="73.0,467.9 74.6,471.2 76.2,478.0 77.8,484.7 79.4,487.2 81.0,481.1 82.6,477.4 84.2,485.6 85.8,487.0 87.4,488.9 89.0,485.5 90.6,484.2 92.2,478.1 93.8,470.4 95.4,475.2 97.0,475.5 98.6,470.1 100.2,470.6 101.8,477.3 103.4,474.5 105.0,476.4 106.6,479.9 108.2,475.7 109.8,474.9 111.4,470.0 113.0,472.7 114.6,480.7 116.2,485.6 117.8,468.3 119.4,465.8 121.0,468.6 122.6,472.6 124.2,482.6 125.8,494.2 127.4,502.5 129.0,508.4 130.6,512.3 132.2,508.1 133.8,510.6 135.4,507.9 137.0,509.5 138.6,509.1 140.2,509.7 141.8,508.9 143.4,509.8 145.0,511.0 146.6,504.1 148.2,501.7 149.8,500.5 151.4,496.9 153.0,496.5 154.6,492.6 156.2,494.3 157.8,495.1 159.4,489.1 161.0,489.0 162.6,490.5 164.2,494.5 165.8,497.9 167.4,492.2 169.0,488.0 170.6,491.6 172.2,497.1 173.8,499.6 175.4,498.1 177.0,502.3 178.6,500.0 180.2,500.6 181.8,502.5 183.4,497.9 185.0,497.6 186.6,499.4 188.2,497.3 189.8,499.3 191.4,496.1 193.0,501.3 194.6,502.1 196.2,502.6 197.8,501.5 199.4,503.7 201.0,508.8 202.6,503.8 204.2,499.4 205.8,497.4 207.4,496.3 209.0,493.9 210.6,489.9 212.2,486.6 213.8,486.8 215.4,491.4 217.0,497.7 218.6,501.4 220.2,497.9 221.8,494.7 223.4,491.0 225.0,489.1 226.6,487.9 228.2,490.9 229.8,490.9 231.4,491.7 233.0,495.5 234.6,498.6 236.2,495.8 237.8,494.4 239.4,488.5 241.0,490.9 242.6,489.8 244.2,487.3 245.8,488.0 247.4,488.0 249.0,480.2 250.6,480.2 252.2,484.8 253.8,491.4 255.4,499.2 257.0,495.5 258.6,497.2 260.2,499.1 261.8,496.9 263.4,493.9 265.0,495.8 266.6,496.7 268.2,500.2 269.8,501.8 271.4,504.8 273.0,507.3 274.6,503.3 276.2,498.2 277.8,492.1 279.4,493.2 281.0,489.3 282.6,491.3 284.2,499.1 285.8,498.1 287.4,498.3 289.0,498.2 290.6,494.3 292.2,493.3 293.8,491.5 295.4,491.4 297.0,495.4 298.6,493.8 300.2,496.7 301.8,496.4 303.4,491.6 305.0,489.2 306.6,482.1 308.2,480.3 309.8,479.3 311.4,472.6 313.0,468.1 314.6,473.7 316.2,474.7 317.8,477.2 319.4,473.8 321.0,468.9 322.6,471.1 324.2,476.8 325.8,476.5 327.4,470.2 329.0,455.3 330.6,454.8 332.2,453.5 333.8,460.0 335.4,454.8 337.0,453.6 338.6,451.1 340.2,446.3 341.8,447.7 343.4,444.1 345.0,444.3 346.6,446.9 348.2,443.2 349.8,442.4 351.4,438.8 353.0,437.9 354.6,434.7 356.2,435.0 357.8,432.7 359.4,426.7 361.0,427.3 362.6,420.4 364.2,417.8 365.8,414.1 367.4,413.3 369.0,408.0 370.6,408.5 372.2,409.6 373.8,406.6 375.4,398.0 377.0,393.6 378.6,399.7 380.2,397.3 381.8,398.9 383.4,397.6 385.0,386.0 386.6,386.4 388.2,388.3 389.8,387.2 391.4,385.8 393.0,384.7 394.6,381.2 396.2,370.2 397.8,364.1 399.4,365.7 401.0,366.3 402.6,368.8 404.2,363.0 405.8,361.7 407.4,357.8 409.0,357.5 410.6,355.6 412.2,357.6 413.8,364.0 415.4,364.4 417.0,364.7 418.6,363.1 420.2,361.7 421.8,354.7 423.4,355.1 425.0,352.9 426.6,355.4 428.2,361.1 429.8,366.6 431.4,369.7 433.0,374.7 434.6,381.1 436.2,381.4 437.8,373.2 439.4,362.6 441.0,359.9 442.6,364.0 444.2,364.8 445.8,367.9 447.4,364.4 449.0,358.8 450.6,360.1 452.2,364.9 453.8,372.1 455.4,372.7 457.0,370.0 458.6,369.5 460.2,374.3 461.8,380.2 463.4,374.4 465.0,369.1 466.6,366.8 468.2,365.2 469.8,369.3 471.4,366.3 473.0,362.5 474.6,365.9 476.2,369.0 477.8,359.8 479.4,358.0 481.0,363.9 482.6,364.6 484.2,366.8 485.8,365.8 487.4,358.2 489.0,358.7 490.6,360.6 492.2,361.8 493.8,359.8 495.4,352.2 497.0,352.3 498.6,360.6 500.2,366.9 501.8,371.8 503.4,368.9 505.0,365.7 506.6,361.1 508.2,365.5 509.8,375.6 511.4,373.7 513.0,370.3 514.6,378.0 516.2,384.6 517.8,392.4 519.4,395.7 521.0,392.4 522.6,394.1 524.2,398.6 525.8,402.9 527.4,403.2 529.0,396.0 530.6,395.4 532.2,398.5 533.8,405.7 535.4,407.3 537.0,411.6 538.6,416.3 540.2,414.0 541.8,409.8 543.4,404.4 545.0,399.4 546.6,406.6 548.2,406.5 549.8,404.3 551.4,403.6 553.0,403.3 554.6,402.9 556.2,401.3 557.8,404.4 559.4,407.2 561.0,406.2 562.6,397.3 564.2,396.5 565.8,392.3 567.4,389.6 569.0,381.4 570.6,375.6 572.2,381.7 573.8,392.4 575.4,406.7 577.0,404.3 578.6,401.2 580.2,396.4 581.8,397.1 583.4,383.0 585.0,377.6 586.6,374.4 588.2,373.8 589.8,379.1 591.4,373.4 593.0,368.3 594.6,373.6 596.2,380.9 597.8,384.7 599.4,388.3 601.0,389.4 602.6,394.2 604.2,398.2 605.8,399.8 607.4,402.1 609.0,415.5 610.6,424.6 612.2,425.9 613.8,424.8 615.4,428.6 617.0,429.0 618.6,431.0 620.2,423.9 621.8,418.3 623.4,418.0 625.0,420.3 626.6,421.2 628.2,426.8 629.8,423.5 631.4,420.1 633.0,418.3 634.6,409.8 636.2,412.1 637.8,421.0 639.4,420.9 641.0,425.7 642.6,437.2 644.2,440.0 645.8,446.3 647.4,442.3 649.0,440.0 650.6,446.2 652.2,448.4 653.8,441.6 655.4,434.8 657.0,444.9 658.6,450.7 660.2,462.7 661.8,453.8 663.4,452.7 665.0,450.2 666.6,445.7 668.2,442.7 669.8,445.5 671.4,447.8 673.0,447.1 674.6,435.8 676.2,437.9 677.8,440.4 679.4,445.2 681.0,449.4 682.6,453.0 684.2,456.0 685.8,458.2 687.4,458.3 689.0,461.2 690.6,459.4 692.2,463.4 693.8,465.3 695.4,466.9 697.0,466.1 698.6,470.1 700.2,472.8 701.8,471.7 703.4,473.8 705.0,479.9 706.6,487.0 708.2,472.9 709.8,465.5 711.4,463.7 713.0,459.5 714.6,454.7 716.2,450.5 717.8,452.1 719.4,448.1 721.0,454.0 722.6,453.7 724.2,456.6 725.8,459.6 727.0,462.7" fill="none" stroke="#1e3cff" stroke-width="2" stroke-linejoin="round" stroke-linecap="round"/>
<polyline points="73.0,462.7 74.6,462.9 76.2,460.9 77.8,455.7 79.4,458.6 81.0,454.8 82.6,452.0 84.2,449.7 85.8,455.8 87.4,458.6 89.0,456.2 90.6,458.2 92.2,466.3 93.8,468.9 95.4,478.8 97.0,481.7 98.6,488.7 100.2,495.5 101.8,508.3 103.4,502.2 105.0,495.8 106.6,493.4 108.2,484.8 109.8,483.7 111.4,482.1 113.0,487.8 114.6,490.2 116.2,496.1 117.8,493.5 119.4,491.7 121.0,485.5 122.6,482.8 124.2,478.1 125.8,474.9 127.4,472.6 129.0,475.2 130.6,476.9 132.2,475.4 133.8,471.9 135.4,469.4 137.0,469.8 138.6,465.3 140.2,457.2 141.8,456.4 143.4,449.9 145.0,449.4 146.6,443.2 148.2,442.9 149.8,438.1 151.4,431.5 153.0,436.6 154.6,438.4 156.2,434.8 157.8,434.2 159.4,433.5 161.0,434.0 162.6,430.0 164.2,434.9 165.8,432.8 167.4,426.8 169.0,423.4 170.6,421.8 172.2,413.3 173.8,415.3 175.4,415.3 177.0,423.1 178.6,431.0 180.2,427.7 181.8,429.2 183.4,428.6 185.0,423.9 186.6,419.3 188.2,416.6 189.8,418.3 191.4,410.5 193.0,418.5 194.6,421.5 196.2,428.6 197.8,428.5 199.4,429.3 201.0,432.0 202.6,431.0 204.2,434.1 205.8,436.3 207.4,434.4 209.0,435.0 210.6,435.5 212.2,431.2 213.8,437.6 215.4,444.5 217.0,444.0 218.6,441.8 220.2,447.4 221.8,449.2 223.4,445.5 225.0,437.9 226.6,435.9 228.2,439.4 229.8,436.6 231.4,441.6 233.0,436.0 234.6,441.9 236.2,444.1 237.8,450.3 239.4,454.3 241.0,460.6 242.6,460.5 244.2,462.1 245.8,458.1 247.4,453.6 249.0,453.2 250.6,452.4 252.2,451.8 253.8,445.6 255.4,441.7 257.0,442.4 258.6,438.4 260.2,433.3 261.8,428.4 263.4,429.5 265.0,438.8 266.6,445.2 268.2,452.0 269.8,457.6 271.4,459.8 273.0,461.6 274.6,461.3 276.2,459.5 277.8,461.9 279.4,459.6 281.0,457.5 282.6,456.3 284.2,455.8 285.8,455.7 287.4,454.5 289.0,455.8 290.6,455.2 292.2,454.0 293.8,453.7 295.4,459.3 297.0,459.4 298.6,461.0 300.2,462.9 301.8,464.1 303.4,470.9 305.0,466.9 306.6,471.3 308.2,472.6 309.8,468.3 311.4,470.4 313.0,472.4 314.6,473.3 316.2,472.0 317.8,471.5 319.4,476.4 321.0,478.5 322.6,482.3 324.2,480.3 325.8,485.7 327.4,483.2 329.0,483.8 330.6,480.1 332.2,474.8 333.8,468.7 335.4,452.6 337.0,445.3 338.6,432.2 340.2,426.5 341.8,427.4 343.4,431.9 345.0,430.6 346.6,439.1 348.2,444.9 349.8,439.8 351.4,436.4 353.0,429.4 354.6,429.3 356.2,429.0 357.8,426.9 359.4,421.1 361.0,418.7 362.6,416.6 364.2,413.4 365.8,415.4 367.4,415.2 369.0,420.1 370.6,417.1 372.2,417.6 373.8,416.9 375.4,418.3 377.0,418.6 378.6,419.7 380.2,424.6 381.8,417.1 383.4,411.8 385.0,406.5 386.6,405.8 388.2,406.0 389.8,406.8 391.4,409.1 393.0,407.5 394.6,409.5 396.2,408.3 397.8,405.4 399.4,396.5 401.0,389.3 402.6,392.1 404.2,393.1 405.8,390.9 407.4,387.0 409.0,387.2 410.6,390.9 412.2,393.5 413.8,399.1 415.4,405.1 417.0,405.8 418.6,407.7 420.2,408.2 421.8,412.2 423.4,423.1 425.0,430.0 426.6,430.3 428.2,424.5 429.8,417.6 431.4,417.3 433.0,415.2 434.6,411.5 436.2,404.2 437.8,403.9 439.4,402.7 441.0,407.7 442.6,412.0 444.2,415.6 445.8,407.3 447.4,402.1 449.0,398.7 450.6,392.3 452.2,391.9 453.8,393.1 455.4,388.6 457.0,391.4 458.6,396.3 460.2,403.1 461.8,402.5 463.4,407.1 465.0,409.9 466.6,406.8 468.2,406.4 469.8,406.7 471.4,405.6 473.0,404.3 474.6,403.2 476.2,406.9 477.8,408.1 479.4,412.0 481.0,411.9 482.6,411.5 484.2,411.3 485.8,408.1 487.4,401.7 489.0,401.7 490.6,404.9 492.2,404.4 493.8,396.9 495.4,402.8 497.0,404.1 498.6,404.5 500.2,407.8 501.8,405.2 503.4,403.1 505.0,408.3 506.6,409.6 508.2,415.1 509.8,420.3 511.4,428.7 513.0,431.0 514.6,428.3 516.2,432.3 517.8,432.7 519.4,431.9 521.0,432.8 522.6,431.6 524.2,432.7 525.8,433.8 527.4,431.2 529.0,433.6 530.6,436.3 532.2,441.1 533.8,443.5 535.4,441.8 537.0,437.2 538.6,432.4 540.2,432.5 541.8,432.3 543.4,437.4 545.0,441.4 546.6,442.3 548.2,446.1 549.8,442.2 551.4,443.1 553.0,437.3 554.6,435.6 556.2,438.2 557.8,436.4 559.4,431.8 561.0,432.9 562.6,427.8 564.2,423.4 565.8,432.9 567.4,447.7 569.0,456.9 570.6,466.4 572.2,473.9 573.8,476.7 575.4,479.1 577.0,470.2 578.6,463.9 580.2,461.7 581.8,454.8 583.4,454.5 585.0,445.5 586.6,440.1 588.2,436.6 589.8,439.5 591.4,452.3 593.0,455.0 594.6,455.8 596.2,452.4 597.8,446.2 599.4,444.2 601.0,443.9 602.6,447.8 604.2,452.3 605.8,452.3 607.4,454.2 609.0,452.3 610.6,455.4 612.2,457.7 613.8,461.4 615.4,464.7 617.0,464.4 618.6,460.1 620.2,460.0 621.8,454.7 623.4,455.4 625.0,450.3 626.6,444.5 628.2,442.8 629.8,441.8 631.4,440.6 633.0,445.7 634.6,447.9 636.2,449.8 637.8,457.3 639.4,462.1 641.0,465.1 642.6,462.4 644.2,457.3 645.8,452.3 647.4,455.2 649.0,453.7 650.6,452.8 652.2,446.1 653.8,451.3 655.4,453.7 657.0,446.3 658.6,448.7 660.2,446.7 661.8,450.0 663.4,446.7 665.0,452.2 666.6,453.5 668.2,457.2 669.8,457.7 671.4,464.5 673.0,470.9 674.6,465.7 676.2,460.8 677.8,450.2 679.4,437.8 681.0,448.2 682.6,453.3 684.2,463.1 685.8,456.7 687.4,454.3 689.0,450.3 690.6,442.8 692.2,445.2 693.8,446.3 695.4,453.8 697.0,457.0 698.6,451.5 700.2,448.2 701.8,448.0 703.4,441.0 705.0,443.0 706.6,444.3 708.2,448.1 709.8,454.2 711.4,455.5 713.0,454.6 714.6,449.9 716.2,450.2 717.8,443.5 719.4,441.3 721.0,432.6 722.6,430.8 724.2,435.3 725.8,437.0 727.0,440.0" fill="none" stroke="#f08228" stroke-width="2" stroke-linejoin="round" stroke-linecap="round"/>
<polyline points="73.0,418.6 74.6,418.0 76.2,421.1 77.8,421.6 79.4,426.4 81.0,428.9 82.6,430.8 84.2,432.3 85.8,431.8 87.4,433.8 89.0,430.3 90.6,434.3 92.2,432.2 93.8,438.8 95.4,442.4 97.0,445.3 98.6,443.6 100.2,438.6 101.8,436.8 103.4,437.0 105.0,434.6 106.6,437.4 108.2,436.3 109.8,441.9 111.4,446.2 113.0,442.2 114.6,439.6 116.2,435.7 117.8,434.6 119.4,434.2 121.0,435.0 122.6,431.6 124.2,425.5 125.8,426.3 127.4,420.2 129.0,425.5 130.6,446.6 132.2,461.4 133.8,474.9 135.4,475.3 137.0,470.0 138.6,473.1 140.2,479.5 141.8,468.9 143.4,464.7 145.0,457.3 146.6,457.3 148.2,451.2 149.8,443.6 151.4,441.1 153.0,439.9 154.6,447.3 156.2,453.8 157.8,453.1 159.4,450.1 161.0,453.2 162.6,457.3 164.2,450.9 165.8,453.8 167.4,451.1 169.0,454.1 170.6,454.0 172.2,454.3 173.8,455.8 175.4,456.1 177.0,459.3 178.6,466.5 180.2,465.7 181.8,465.2 183.4,463.1 185.0,458.9 186.6,456.1 188.2,454.2 189.8,452.7 191.4,443.1 193.0,442.0 194.6,444.8 196.2,451.1 197.8,453.7 199.4,453.0 201.0,455.7 202.6,456.3 204.2,455.9 205.8,451.8 207.4,449.7 209.0,446.8 210.6,445.3 212.2,447.2 213.8,452.7 215.4,452.4 217.0,456.0 218.6,451.3 220.2,453.1 221.8,449.1 223.4,449.1 225.0,448.7 226.6,451.4 228.2,445.4 229.8,448.0 231.4,450.2 233.0,456.1 234.6,460.2 236.2,459.8 237.8,455.7 239.4,446.0 241.0,440.0 242.6,439.0 244.2,445.6 245.8,453.4 247.4,461.4 249.0,458.1 250.6,453.5 252.2,445.9 253.8,442.3 255.4,441.0 257.0,445.2 258.6,442.8 260.2,449.0 261.8,452.1 263.4,454.8 265.0,454.5 266.6,459.1 268.2,458.4 269.8,461.6 271.4,456.7 273.0,458.3 274.6,452.3 276.2,449.7 277.8,445.7 279.4,443.3 281.0,440.5 282.6,436.1 284.2,431.3 285.8,430.0 287.4,428.1 289.0,432.1 290.6,438.1 292.2,447.4 293.8,452.9 295.4,453.4 297.0,447.5 298.6,447.0 300.2,447.6 301.8,445.9 303.4,440.5 305.0,433.3 306.6,439.1 308.2,441.6 309.8,448.1 311.4,446.1 313.0,441.5 314.6,442.1 316.2,448.6 317.8,442.4 319.4,436.2 321.0,432.4 322.6,422.9 324.2,412.9 325.8,405.2 327.4,410.9 329.0,415.6 330.6,420.8 332.2,409.3 333.8,393.7 335.4,383.2 337.0,381.5 338.6,390.3 340.2,408.7 341.8,416.5 343.4,414.2 345.0,407.0 346.6,420.0 348.2,429.8 349.8,442.3 351.4,443.8 353.0,447.4 354.6,445.7 356.2,445.1 357.8,451.4 359.4,450.0 361.0,447.4 362.6,446.4 364.2,447.6 365.8,453.0 367.4,457.7 369.0,455.0 370.6,453.5 372.2,458.6 373.8,468.7 375.4,475.1 377.0,476.3 378.6,476.6 380.2,473.3 381.8,469.1 383.4,465.3 385.0,461.8 386.6,469.1 388.2,462.6 389.8,456.4 391.4,460.9 393.0,460.5 394.6,453.2 396.2,457.3 397.8,460.5 399.4,468.3 401.0,477.3 402.6,477.2 404.2,474.4 405.8,472.2 407.4,472.7 409.0,474.2 410.6,476.4 412.2,479.5 413.8,477.8 415.4,474.5 417.0,469.9 418.6,470.8 420.2,480.6 421.8,484.1 423.4,486.8 425.0,488.6 426.6,489.8 428.2,489.2 429.8,483.4 431.4,490.3 433.0,484.0 434.6,475.9 436.2,473.8 437.8,467.1 439.4,466.0 441.0,475.0 442.6,480.0 444.2,488.2 445.8,495.3 447.4,495.6 449.0,497.4 450.6,495.0 452.2,501.1 453.8,494.6 455.4,491.1 457.0,489.2 458.6,502.3 460.2,500.0 461.8,497.7 463.4,501.3 465.0,498.8 466.6,508.1 468.2,511.9 469.8,514.0 471.4,515.0 473.0,521.6 474.6,523.2 476.2,514.9 477.8,512.6 479.4,514.3 481.0,513.0 482.6,505.5 484.2,494.8 485.8,495.2 487.4,497.9 489.0,505.4 490.6,488.7 492.2,488.6 493.8,493.7 495.4,499.7 497.0,505.8 498.6,507.9 500.2,503.8 501.8,503.8 503.4,508.3 505.0,503.5 506.6,498.7 508.2,503.5 509.8,509.2 511.4,516.9 513.0,506.7 514.6,511.5 516.2,499.8 517.8,489.1 519.4,487.1 521.0,485.2 522.6,491.0 524.2,487.5 525.8,494.2 527.4,499.0 529.0,487.2 530.6,487.9 532.2,477.8 533.8,459.5 535.4,458.2 537.0,470.3 538.6,475.6 540.2,466.7 541.8,452.2 543.4,439.3 545.0,450.2 546.6,481.6 548.2,499.7 549.8,502.0 551.4,498.8 553.0,486.9 554.6,496.6 556.2,510.8 557.8,523.1 559.4,508.2 561.0,488.8 562.6,475.2 564.2,473.4 565.8,498.7 567.4,512.7 569.0,509.2 570.6,500.9 572.2,499.7 573.8,498.4 575.4,505.4 577.0,505.2 578.6,490.7 580.2,484.2 581.8,492.5 583.4,475.3 585.0,460.4 586.6,458.2 588.2,464.8 589.8,480.0 591.4,478.8 593.0,481.6 594.6,479.9 596.2,483.5 597.8,483.5 599.4,477.6 601.0,479.8 602.6,484.6 604.2,487.8 605.8,494.0 607.4,497.8 609.0,498.5 610.6,498.3 612.2,491.7 613.8,493.8 615.4,494.3 617.0,501.4 618.6,479.8 620.2,471.8 621.8,475.5 623.4,478.2 625.0,482.3 626.6,486.1 628.2,489.7 629.8,486.4 631.4,481.7 633.0,478.2 634.6,469.8 636.2,462.1 637.8,466.3 639.4,475.6 641.0,481.1 642.6,475.1 644.2,476.2 645.8,471.6 647.4,471.9 649.0,477.1 650.6,479.0 652.2,484.3 653.8,488.2 655.4,488.5 657.0,486.3 658.6,477.9 660.2,466.0 661.8,460.7 663.4,460.3 665.0,484.0 666.6,457.8 668.2,434.0 669.8,432.9 671.4,437.5 673.0,447.9 674.6,448.7 676.2,455.0 677.8,458.3 679.4,459.8 681.0,463.2 682.6,468.4 684.2,467.1 685.8,465.7 687.4,461.7 689.0,456.2 690.6,460.8 692.2,456.2 693.8,453.7 695.4,457.8 697.0,452.5 698.6,442.8 700.2,442.0 701.8,439.9 703.4,431.8 705.0,424.5 706.6,432.5 708.2,440.7 709.8,453.0 711.4,444.9 713.0,440.0 714.6,434.5 716.2,432.9 717.8,427.3 719.4,428.0 721.0,434.7 722.6,444.1 724.2,455.3 725.8,460.7 727.0,462.7" fill="none" stroke="#8200dc" stroke-width="2" stroke-linejoin="round" stroke-linecap="round"/>
<polyline points="73.0,491.3 74.6,487.3 76.2,482.6 77.8,484.1 79.4,484.5 81.0,491.1 82.6,494.3 84.2,493.8 85.8,491.0 87.4,491.6 89.0,496.5 90.6,498.8 92.2,496.9 93.8,497.4 95.4,498.3 97.0,498.4 98.6,502.2 100.2,504.7 101.8,505.4 103.4,499.5 105.0,497.0 106.6,484.2 108.2,482.6 109.8,475.6 111.4,462.9 113.0,457.2 114.6,448.9 116.2,447.4 117.8,451.1 119.4,457.7 121.0,462.0 122.6,466.0 124.2,463.1 125.8,468.1 127.4,466.0 129.0,470.6 130.6,479.1 132.2,483.4 133.8,494.9 135.4,511.6 137.0,514.5 138.6,515.4 140.2,510.4 141.8,512.9 143.4,511.9 145.0,511.2 146.6,510.2 148.2,515.6 149.8,512.7 151.4,514.4 153.0,507.6 154.6,501.1 156.2,502.5 157.8,501.4 159.4,503.2 161.0,505.5 162.6,505.7 164.2,499.7 165.8,497.2 167.4,505.9 169.0,507.2 170.6,504.1 172.2,507.6 173.8,508.6 175.4,507.6 177.0,497.3 178.6,495.6 180.2,493.0 181.8,493.9 183.4,493.5 185.0,492.1 186.6,490.2 188.2,490.8 189.8,491.2 191.4,490.2 193.0,486.9 194.6,483.2 196.2,484.0 197.8,481.3 199.4,480.0 201.0,478.4 202.6,481.1 204.2,478.1 205.8,476.1 207.4,479.6 209.0,485.7 210.6,490.2 212.2,488.2 213.8,488.4 215.4,488.9 217.0,488.7 218.6,489.5 220.2,487.2 221.8,491.1 223.4,495.5 225.0,505.9 226.6,511.6 228.2,501.3 229.8,496.2 231.4,495.4 233.0,499.3 234.6,505.5 236.2,509.5 237.8,508.6 239.4,510.4 241.0,514.0 242.6,517.6 244.2,517.5 245.8,512.2 247.4,510.7 249.0,509.9 250.6,512.1 252.2,514.1 253.8,516.2 255.4,513.7 257.0,515.9 258.6,512.9 260.2,506.5 261.8,500.5 263.4,499.7 265.0,502.4 266.6,514.0 268.2,511.3 269.8,500.4 271.4,492.8 273.0,487.7 274.6,485.4 276.2,488.9 277.8,485.7 279.4,484.5 281.0,481.5 282.6,475.5 284.2,473.8 285.8,472.0 287.4,477.4 289.0,480.8 290.6,480.3 292.2,478.1 293.8,475.9 295.4,474.2 297.0,469.4 298.6,463.2 300.2,463.3 301.8,459.9 303.4,455.3 305.0,451.0 306.6,452.8 308.2,447.0 309.8,435.0 311.4,429.3 313.0,432.0 314.6,435.2 316.2,436.3 317.8,437.1 319.4,431.7 321.0,431.3 322.6,435.8 324.2,439.4 325.8,442.5 327.4,446.1 329.0,442.1 330.6,439.2 332.2,438.2 333.8,436.7 335.4,419.9 337.0,412.4 338.6,410.0 340.2,406.2 341.8,407.4 343.4,399.0 345.0,395.8 346.6,390.1 348.2,386.6 349.8,384.7 351.4,381.4 353.0,386.8 354.6,389.8 356.2,390.8 357.8,394.1 359.4,401.7 361.0,390.5 362.6,384.5 364.2,383.2 365.8,391.3 367.4,391.2 369.0,394.4 370.6,398.9 372.2,401.3 373.8,402.4 375.4,405.1 377.0,403.6 378.6,400.7 380.2,402.1 381.8,398.0 383.4,390.8 385.0,387.7 386.6,387.5 388.2,389.8 389.8,386.1 391.4,389.5 393.0,389.9 394.6,386.3 396.2,385.6 397.8,380.0 399.4,375.5 401.0,370.5 402.6,372.2 404.2,366.8 405.8,370.6 407.4,368.4 409.0,364.7 410.6,366.9 412.2,366.4 413.8,372.5 415.4,372.8 417.0,378.5 418.6,376.9 420.2,375.1 421.8,369.5 423.4,373.1 425.0,372.6 426.6,376.1 428.2,373.0 429.8,371.0 431.4,370.0 433.0,370.6 434.6,371.1 436.2,375.1 437.8,380.8 439.4,381.6 441.0,381.1 442.6,379.2 444.2,385.2 445.8,383.1 447.4,388.3 449.0,390.6 450.6,392.0 452.2,393.4 453.8,399.4 455.4,396.5 457.0,396.6 458.6,395.0 460.2,399.4 461.8,396.3 463.4,394.5 465.0,392.9 466.6,396.2 468.2,397.0 469.8,398.6 471.4,396.3 473.0,397.0 474.6,394.5 476.2,398.8 477.8,398.8 479.4,410.0 481.0,416.2 482.6,416.1 484.2,410.0 485.8,407.2 487.4,407.9 489.0,412.0 490.6,419.0 492.2,425.2 493.8,425.7 495.4,426.2 497.0,428.1 498.6,429.1 500.2,431.5 501.8,433.4 503.4,436.5 505.0,437.9 506.6,437.1 508.2,436.0 509.8,431.7 511.4,434.2 513.0,435.8 514.6,435.2 516.2,439.1 517.8,436.2 519.4,441.0 521.0,438.2 522.6,438.8 524.2,435.5 525.8,434.2 527.4,432.8 529.0,430.1 530.6,425.7 532.2,424.5 533.8,425.7 535.4,423.9 537.0,429.6 538.6,431.0 540.2,430.3 541.8,431.4 543.4,431.7 545.0,430.8 546.6,428.3 548.2,426.7 549.8,425.1 551.4,429.4 553.0,440.0 554.6,449.8 556.2,450.3 557.8,454.2 559.4,456.5 561.0,461.4 562.6,462.3 564.2,457.8 565.8,454.5 567.4,459.3 569.0,460.4 570.6,467.3 572.2,470.9 573.8,470.5 575.4,465.2 577.0,456.2 578.6,455.0 580.2,453.2 581.8,450.5 583.4,456.9 585.0,459.5 586.6,470.2 588.2,474.2 589.8,479.9 591.4,479.6 593.0,484.5 594.6,480.6 596.2,480.4 597.8,477.9 599.4,480.5 601.0,481.8 602.6,482.1 604.2,476.8 605.8,477.1 607.4,477.4 609.0,481.0 610.6,487.7 612.2,487.7 613.8,483.0 615.4,479.9 617.0,475.5 618.6,469.4 620.2,459.0 621.8,463.5 623.4,471.7 625.0,475.4 626.6,480.1 628.2,484.7 629.8,487.0 631.4,488.6 633.0,484.3 634.6,478.8 636.2,475.3 637.8,471.9 639.4,471.4 641.0,468.1 642.6,470.1 644.2,473.6 645.8,472.8 647.4,469.2 649.0,468.2 650.6,472.6 652.2,472.7 653.8,476.6 655.4,483.0 657.0,484.2 658.6,483.5 660.2,482.5 661.8,485.1 663.4,483.8 665.0,490.2 666.6,488.4 668.2,492.1 669.8,487.0 671.4,487.9 673.0,482.6 674.6,484.2 676.2,484.4 677.8,484.8 679.4,481.0 681.0,477.5 682.6,477.3 684.2,480.3 685.8,478.0 687.4,482.2 689.0,482.2 690.6,482.3 692.2,479.4 693.8,475.6 695.4,470.7 697.0,470.4 698.6,462.4 700.2,458.9 701.8,455.5 703.4,451.6 705.0,453.8 706.6,457.9 708.2,465.4 709.8,464.8 711.4,468.3 713.0,464.4 714.6,467.0 716.2,466.3 717.8,472.0 719.4,467.6 721.0,466.0 722.6,465.8 724.2,462.4 725.8,461.0 727.0,460.7" fill="none" stroke="#00c8c8" stroke-width="2" stroke-linejoin="round" stroke-linecap="round"/>
<polyline points="73.0,463.3 74.6,455.7 76.2,454.7 77.8,453.5 79.4,456.9 81.0,462.9 82.6,463.9 84.2,463.9 85.8,466.5 87.4,473.9 89.0,475.7 90.6,471.8 92.2,463.3 93.8,464.3 95.4,458.0 97.0,441.9 98.6,440.4 100.2,435.2 101.8,430.7 103.4,429.0 105.0,424.8 106.6,419.5 108.2,417.1 109.8,411.7 111.4,410.9 113.0,412.3 114.6,413.4 116.2,418.4 117.8,423.0 119.4,432.2 121.0,437.0 122.6,429.9 124.2,421.9 125.8,417.5 127.4,414.7 129.0,416.9 130.6,423.1 132.2,426.9 133.8,431.8 135.4,438.7 137.0,442.5 138.6,450.0 140.2,453.7 141.8,453.0 143.4,454.6 145.0,451.8 146.6,450.9 148.2,448.3 149.8,453.0 151.4,451.7 153.0,443.6 154.6,443.4 156.2,444.8 157.8,441.9 159.4,446.1 161.0,444.6 162.6,444.5 164.2,445.8 165.8,444.9 167.4,444.0 169.0,442.4 170.6,444.0 172.2,448.8 173.8,450.6 175.4,448.3 177.0,449.6 178.6,450.1 180.2,448.8 181.8,450.9 183.4,446.0 185.0,447.8 186.6,447.5 188.2,447.8 189.8,451.4 191.4,448.8 193.0,451.2 194.6,448.8 196.2,454.8 197.8,456.6 199.4,456.4 201.0,456.5 202.6,453.0 204.2,447.7 205.8,448.4 207.4,444.6 209.0,448.3 210.6,454.5 212.2,460.5 213.8,463.2 215.4,477.5 217.0,476.9 218.6,475.2 220.2,477.3 221.8,472.9 223.4,472.5 225.0,468.6 226.6,469.0 228.2,467.9 229.8,463.8 231.4,467.9 233.0,470.2 234.6,466.0 236.2,467.0 237.8,466.8 239.4,469.7 241.0,475.7 242.6,473.8 244.2,472.5 245.8,471.1 247.4,465.8 249.0,463.2 250.6,462.6 252.2,467.0 253.8,469.0 255.4,468.0 257.0,473.6 258.6,476.6 260.2,477.3 261.8,480.8 263.4,479.2 265.0,478.0 266.6,479.9 268.2,473.0 269.8,473.2 271.4,468.9 273.0,469.4 274.6,467.3 276.2,468.3 277.8,473.6 279.4,471.3 281.0,470.9 282.6,476.7 284.2,476.6 285.8,478.3 287.4,476.4 289.0,479.2 290.6,486.1 292.2,481.0 293.8,475.4 295.4,472.2 297.0,468.8 298.6,462.1 300.2,461.0 301.8,460.1 303.4,457.7 305.0,454.5 306.6,452.6 308.2,451.3 309.8,451.1 311.4,445.7 313.0,440.1 314.6,436.9 316.2,431.2 317.8,428.2 319.4,423.6 321.0,424.8 322.6,421.7 324.2,424.9 325.8,421.7 327.4,426.5 329.0,423.9 330.6,422.1 331.5,420.0" fill="none" stroke="#b4b4b4" stroke-width="2.2" stroke-linejoin="round" stroke-linecap="round"/>
<polyline points="73.0,468.3 74.6,460.7 76.2,457.7 77.8,457.3 79.4,460.1 81.0,466.8 82.6,469.7 84.2,469.6 85.8,471.1 87.4,477.4 89.0,482.9 90.6,478.2 92.2,469.2 93.8,467.1 95.4,460.6 97.0,450.6 98.6,441.0 100.2,438.4 101.8,433.3 103.4,433.8 105.0,431.0 106.6,426.7 108.2,422.8 109.8,417.4 111.4,416.0 113.0,419.9 114.6,420.9 116.2,422.1 117.8,429.7 119.4,436.6 121.0,440.5 122.6,433.6 124.2,425.5 125.8,420.7 127.4,420.2 129.0,421.9 130.6,425.8 132.2,427.5 133.8,433.7 135.4,443.4 137.0,448.0 138.6,456.0 140.2,460.0 141.8,460.1 143.4,457.6 145.0,455.7 146.6,454.5 148.2,455.3 149.8,456.7 151.4,455.1 153.0,450.8 154.6,449.4 156.2,447.9 157.8,447.4 159.4,446.9 161.0,449.1 162.6,451.2 164.2,449.9 165.8,449.2 167.4,450.1 169.0,448.0 170.6,450.8 172.2,450.8 173.8,454.0 175.4,454.3 177.0,455.6 178.6,456.8 180.2,457.0 181.8,452.8 183.4,452.7 185.0,451.3 186.6,453.2 188.2,452.8 189.8,454.2 191.4,455.2 193.0,455.6 194.6,454.3 196.2,459.9 197.8,462.1 199.4,461.8 201.0,458.6 202.6,457.5 204.2,453.5 205.8,452.5 207.4,450.0 209.0,455.1 210.6,456.8 212.2,463.5 213.8,471.1 215.4,480.9 217.0,481.7 218.6,480.6 220.2,481.4 221.8,478.2 223.4,477.6 225.0,474.3 226.6,474.6 228.2,472.6 229.8,471.6 231.4,473.8 233.0,475.7 234.6,469.5 236.2,468.6 237.8,472.6 239.4,475.1 241.0,478.9 242.6,479.5 244.2,479.3 245.8,473.5 247.4,469.3 249.0,468.6 250.6,470.6 252.2,471.7 253.8,470.3 255.4,473.8 257.0,477.0 258.6,478.5 260.2,482.9 261.8,486.1 263.4,486.9 265.0,486.0 266.6,481.2 268.2,478.6 269.8,476.1 271.4,475.6 273.0,473.0 274.6,470.4 276.2,475.5 277.8,479.9 279.4,474.1 281.0,477.9 282.6,484.6 284.2,481.2 285.8,481.5 287.4,481.9 289.0,486.7 290.6,489.4 292.2,487.2 293.8,483.2 295.4,479.6 297.0,474.8 298.6,469.6 300.2,467.1 301.8,465.2 303.4,462.9 305.0,461.6 306.6,456.6 308.2,454.6 309.8,454.5 311.4,450.6 313.0,445.1 314.6,442.5 316.2,438.1 317.8,436.5 319.4,430.8 321.0,426.0 322.6,424.9 324.2,426.5 325.8,430.5 327.4,431.1 329.0,429.0 330.6,426.0 331.5,424.6" fill="none" stroke="#303030" stroke-width="1" stroke-linejoin="round" stroke-linecap="round"/>
<polyline points="73.0,467.6 74.6,459.4 76.2,456.4 77.8,457.7 79.4,460.8 81.0,466.4 82.6,469.6 84.2,467.8 85.8,469.7 87.4,476.3 89.0,481.9 90.6,476.9 92.2,469.6 93.8,466.5 95.4,460.9 97.0,448.5 98.6,441.7 100.2,436.6 101.8,433.8 103.4,432.4 105.0,430.8 106.6,426.2 108.2,420.9 109.8,418.2 111.4,416.6 113.0,417.8 114.6,420.1 116.2,422.6 117.8,427.3 119.4,434.3 121.0,440.9 122.6,433.1 124.2,425.9 125.8,420.5 127.4,419.0 129.0,422.2 130.6,424.3 132.2,428.1 133.8,433.9 135.4,441.6 137.0,447.6 138.6,455.5 140.2,458.9 141.8,459.4 143.4,457.1 145.0,456.4 146.6,453.0 148.2,453.0 149.8,454.4 151.4,453.7 153.0,450.4 154.6,449.0 156.2,446.5 157.8,446.1 159.4,447.4 161.0,449.2 162.6,450.9 164.2,449.1 165.8,447.4 167.4,449.3 169.0,448.7 170.6,449.0 172.2,450.2 173.8,453.1 175.4,454.4 177.0,455.0 178.6,456.3 180.2,455.3 181.8,453.3 183.4,451.8 185.0,451.5 186.6,451.8 188.2,453.5 189.8,454.1 191.4,454.9 193.0,454.4 194.6,455.0 196.2,459.2 197.8,462.2 199.4,461.7 201.0,457.9 202.6,455.3 204.2,452.8 205.8,450.2 207.4,450.3 209.0,452.9 210.6,456.5 212.2,463.7 213.8,469.5 215.4,478.8 217.0,482.5 218.6,480.6 220.2,479.8 221.8,477.9 223.4,477.7 225.0,475.0 226.6,475.3 228.2,471.5 229.8,469.3 231.4,471.4 233.0,474.9 234.6,470.3 236.2,468.4 237.8,470.8 239.4,473.2 241.0,477.7 242.6,479.6 244.2,478.4 245.8,472.8 247.4,468.1 249.0,468.6 250.6,468.4 252.2,469.6 253.8,470.6 255.4,473.7 257.0,475.0 258.6,478.4 260.2,480.7 261.8,485.3 263.4,485.5 265.0,484.5 266.6,481.3 268.2,478.5 269.8,476.1 271.4,474.2 273.0,471.6 274.6,470.7 276.2,473.4 277.8,479.4 279.4,474.1 281.0,477.3 282.6,482.2 284.2,480.2 285.8,480.3 287.4,479.7 289.0,484.5 290.6,487.7 292.2,486.6 293.8,482.1 295.4,477.5 297.0,473.1 298.6,468.5 300.2,466.8 301.8,464.8 303.4,461.3 305.0,460.6 306.6,457.3 308.2,453.1 309.8,452.4 311.4,448.8 313.0,443.0 314.6,440.4 316.2,437.2 317.8,434.8 319.4,430.3 321.0,426.5 322.6,424.6 324.2,426.3 325.8,428.3 327.4,429.7 329.0,428.0 330.6,424.8 331.5,425.0" fill="none" stroke="#000000" stroke-width="2.5" stroke-linejoin="round" stroke-linecap="round"/>
</g>
<line x1="73" y1="205.83" x2="727" y2="205.83" stroke="#808080" stroke-width="2"/>
<line x1="73" y1="465.15" x2="727" y2="465.15" stroke="#404040" stroke-width="1.2"/>
<line x1="73.00" y1="72.50" x2="73.00" y2="272.50" class="gd gv"/>
<line x1="127.00" y1="72.50" x2="127.00" y2="272.50" class="gd gv"/>
<line x1="181.41" y1="72.50" x2="181.41" y2="272.50" class="gd gv"/>
<line x1="236.42" y1="72.50" x2="236.42" y2="272.50" class="gd gv"/>
<line x1="291.43" y1="72.50" x2="291.43" y2="272.50" class="gd gv"/>
<line x1="345.24" y1="72.50" x2="345.24" y2="272.50" class="gd gv"/>
<line x1="399.65" y1="72.50" x2="399.65" y2="272.50" class="gd gv"/>
<line x1="454.66" y1="72.50" x2="454.66" y2="272.50" class="gd gv"/>
<line x1="509.67" y1="72.50" x2="509.67" y2="272.50" class="gd gv"/>
<line x1="563.48" y1="72.50" x2="563.48" y2="272.50" class="gd gv"/>
<line x1="617.90" y1="72.50" x2="617.90" y2="272.50" class="gd gv"/>
<line x1="672.90" y1="72.50" x2="672.90" y2="272.50" class="gd gv"/>
<line x1="73.00" y1="72.50" x2="727.00" y2="72.50" class="gd gh"/>
<line x1="73.00" y1="105.83" x2="727.00" y2="105.83" class="gd gh"/>
<line x1="73.00" y1="139.16" x2="727.00" y2="139.16" class="gd gh"/>
<line x1="73.00" y1="172.50" x2="727.00" y2="172.50" class="gd gh"/>
<line x1="73.00" y1="205.83" x2="727.00" y2="205.83" class="gd gh"/>
<line x1="73.00" y1="239.16" x2="727.00" y2="239.16" class="gd gh"/>
<line x1="73.00" y1="272.50" x2="727.00" y2="272.50" class="gd gh"/>
<line x1="73.00" y1="345.40" x2="73.00" y2="545.00" class="gd gv"/>
<line x1="127.00" y1="345.40" x2="127.00" y2="545.00" class="gd gv"/>
<line x1="181.41" y1="345.40" x2="181.41" y2="545.00" class="gd gv"/>
<line x1="236.42" y1="345.40" x2="236.42" y2="545.00" class="gd gv"/>
<line x1="291.43" y1="345.40" x2="291.43" y2="545.00" class="gd gv"/>
<line x1="345.24" y1="345.40" x2="345.24" y2="545.00" class="gd gv"/>
<line x1="399.65" y1="345.40" x2="399.65" y2="545.00" class="gd gv"/>
<line x1="454.66" y1="345.40" x2="454.66" y2="545.00" class="gd gv"/>
<line x1="509.67" y1="345.40" x2="509.67" y2="545.00" class="gd gv"/>
<line x1="563.48" y1="345.40" x2="563.48" y2="545.00" class="gd gv"/>
<line x1="617.90" y1="345.40" x2="617.90" y2="545.00" class="gd gv"/>
<line x1="672.90" y1="345.40" x2="672.90" y2="545.00" class="gd gv"/>
<line x1="73.00" y1="358.75" x2="727.00" y2="358.75" class="gd gh"/>
<line x1="73.00" y1="385.35" x2="727.00" y2="385.35" class="gd gh"/>
<line x1="73.00" y1="411.95" x2="727.00" y2="411.95" class="gd gh"/>
<line x1="73.00" y1="438.55" x2="727.00" y2="438.55" class="gd gh"/>
<line x1="73.00" y1="465.15" x2="727.00" y2="465.15" class="gd gh"/>
<line x1="73.00" y1="491.75" x2="727.00" y2="491.75" class="gd gh"/>
<line x1="73.00" y1="518.35" x2="727.00" y2="518.35" class="gd gh"/>
<line x1="73.00" y1="544.95" x2="727.00" y2="544.95" class="gd gh"/>
<rect x="552.5" y="72.5" width="174.5" height="126.5" fill="#ffffff" fill-opacity="0.52"/>
<rect x="552.5" y="72.5" width="174.5" height="126.5" fill="none" stroke="#000" stroke-width="1.8"/>
<line x1="559.5" y1="81.50" x2="600.8" y2="81.50" stroke="#666666" stroke-width="1.3"/>
<line x1="559.5" y1="95.50" x2="600.8" y2="95.50" stroke="#9c9c9c" stroke-width="1.3"/>
<line x1="559.5" y1="109.00" x2="600.8" y2="109.00" stroke="#000000" stroke-width="2"/>
<line x1="559.5" y1="123.00" x2="600.8" y2="123.00" stroke="#00dc00" stroke-width="2"/>
<line x1="559.5" y1="136.00" x2="600.8" y2="136.00" stroke="#fa3c3c" stroke-width="2"/>
<line x1="559.5" y1="150.00" x2="600.8" y2="150.00" stroke="#1e3cff" stroke-width="2"/>
<line x1="559.5" y1="164.00" x2="600.8" y2="164.00" stroke="#f08228" stroke-width="2"/>
<line x1="559.5" y1="177.00" x2="600.8" y2="177.00" stroke="#8200dc" stroke-width="2"/>
<line x1="559.5" y1="191.00" x2="600.8" y2="191.00" stroke="#00c8c8" stroke-width="2"/>
<rect x="73.00" y="72.50" width="654.00" height="200.00" fill="none" stroke="#000" stroke-width="2"/>
<line x1="66" y1="72.50" x2="73.00" y2="72.50" stroke="#000" stroke-width="2"/>
<line x1="66" y1="105.83" x2="73.00" y2="105.83" stroke="#000" stroke-width="2"/>
<line x1="66" y1="139.16" x2="73.00" y2="139.16" stroke="#000" stroke-width="2"/>
<line x1="66" y1="172.50" x2="73.00" y2="172.50" stroke="#000" stroke-width="2"/>
<line x1="66" y1="205.83" x2="73.00" y2="205.83" stroke="#000" stroke-width="2"/>
<line x1="66" y1="239.16" x2="73.00" y2="239.16" stroke="#000" stroke-width="2"/>
<line x1="66" y1="272.50" x2="73.00" y2="272.50" stroke="#000" stroke-width="2"/>
<line x1="73.00" y1="272.50" x2="73.00" y2="278.50" stroke="#000" stroke-width="2"/>
<line x1="127.00" y1="272.50" x2="127.00" y2="278.50" stroke="#000" stroke-width="2"/>
<line x1="181.41" y1="272.50" x2="181.41" y2="278.50" stroke="#000" stroke-width="2"/>
<line x1="236.42" y1="272.50" x2="236.42" y2="278.50" stroke="#000" stroke-width="2"/>
<line x1="291.43" y1="272.50" x2="291.43" y2="278.50" stroke="#000" stroke-width="2"/>
<line x1="345.24" y1="272.50" x2="345.24" y2="278.50" stroke="#000" stroke-width="2"/>
<line x1="399.65" y1="272.50" x2="399.65" y2="278.50" stroke="#000" stroke-width="2"/>
<line x1="454.66" y1="272.50" x2="454.66" y2="278.50" stroke="#000" stroke-width="2"/>
<line x1="509.67" y1="272.50" x2="509.67" y2="278.50" stroke="#000" stroke-width="2"/>
<line x1="563.48" y1="272.50" x2="563.48" y2="278.50" stroke="#000" stroke-width="2"/>
<line x1="617.90" y1="272.50" x2="617.90" y2="278.50" stroke="#000" stroke-width="2"/>
<line x1="672.90" y1="272.50" x2="672.90" y2="278.50" stroke="#000" stroke-width="2"/>
<rect x="73.00" y="345.40" width="654.00" height="199.60" fill="none" stroke="#000" stroke-width="2"/>
<line x1="66" y1="358.75" x2="73.00" y2="358.75" stroke="#000" stroke-width="2"/>
<line x1="66" y1="385.35" x2="73.00" y2="385.35" stroke="#000" stroke-width="2"/>
<line x1="66" y1="411.95" x2="73.00" y2="411.95" stroke="#000" stroke-width="2"/>
<line x1="66" y1="438.55" x2="73.00" y2="438.55" stroke="#000" stroke-width="2"/>
<line x1="66" y1="465.15" x2="73.00" y2="465.15" stroke="#000" stroke-width="2"/>
<line x1="66" y1="491.75" x2="73.00" y2="491.75" stroke="#000" stroke-width="2"/>
<line x1="66" y1="518.35" x2="73.00" y2="518.35" stroke="#000" stroke-width="2"/>
<line x1="66" y1="544.95" x2="73.00" y2="544.95" stroke="#000" stroke-width="2"/>
<line x1="73.00" y1="545.00" x2="73.00" y2="551.00" stroke="#000" stroke-width="2"/>
<line x1="127.00" y1="545.00" x2="127.00" y2="551.00" stroke="#000" stroke-width="2"/>
<line x1="181.41" y1="545.00" x2="181.41" y2="551.00" stroke="#000" stroke-width="2"/>
<line x1="236.42" y1="545.00" x2="236.42" y2="551.00" stroke="#000" stroke-width="2"/>
<line x1="291.43" y1="545.00" x2="291.43" y2="551.00" stroke="#000" stroke-width="2"/>
<line x1="345.24" y1="545.00" x2="345.24" y2="551.00" stroke="#000" stroke-width="2"/>
<line x1="399.65" y1="545.00" x2="399.65" y2="551.00" stroke="#000" stroke-width="2"/>
<line x1="454.66" y1="545.00" x2="454.66" y2="551.00" stroke="#000" stroke-width="2"/>
<line x1="509.67" y1="545.00" x2="509.67" y2="551.00" stroke="#000" stroke-width="2"/>
<line x1="563.48" y1="545.00" x2="563.48" y2="551.00" stroke="#000" stroke-width="2"/>
<line x1="617.90" y1="545.00" x2="617.90" y2="551.00" stroke="#000" stroke-width="2"/>
<line x1="672.90" y1="545.00" x2="672.90" y2="551.00" stroke="#000" stroke-width="2"/>
<line x1="73.00" y1="72.50" x2="727.00" y2="72.50" class="go gh"/>
<line x1="73.00" y1="272.50" x2="727.00" y2="272.50" class="go gh"/>
<line x1="73.00" y1="72.50" x2="73.00" y2="272.50" class="go gv"/>
<line x1="73.00" y1="345.40" x2="73.00" y2="545.00" class="go gv"/>
<line x1="73.00" y1="545.00" x2="727.00" y2="545.00" class="go gh"/>
<text x="0" y="0" class="yl" text-anchor="end" transform="translate(61.0 80.70) scale(0.92 1)">4</text>
<text x="0" y="0" class="yl" text-anchor="end" transform="translate(61.0 114.03) scale(0.92 1)">3</text>
<text x="0" y="0" class="yl" text-anchor="end" transform="translate(61.0 147.36) scale(0.92 1)">2</text>
<text x="0" y="0" class="yl" text-anchor="end" transform="translate(61.0 180.70) scale(0.92 1)">1</text>
<text x="0" y="0" class="yl" text-anchor="end" transform="translate(61.0 214.03) scale(0.92 1)">0</text>
<text x="0" y="0" class="yl" text-anchor="end" transform="translate(61.0 247.36) scale(0.92 1)">1</text>
<rect x="36" y="239.56" width="11.8" height="2.1" fill="#000"/>
<text x="0" y="0" class="yl" text-anchor="end" transform="translate(61.0 280.70) scale(0.92 1)">2</text>
<rect x="36" y="272.90" width="11.8" height="2.1" fill="#000"/>
<text x="0" y="0" class="yl" text-anchor="end" transform="translate(61.0 366.95) scale(0.92 1)">4</text>
<text x="0" y="0" class="yl" text-anchor="end" transform="translate(61.0 393.55) scale(0.92 1)">3</text>
<text x="0" y="0" class="yl" text-anchor="end" transform="translate(61.0 420.15) scale(0.92 1)">2</text>
<text x="0" y="0" class="yl" text-anchor="end" transform="translate(61.0 446.75) scale(0.92 1)">1</text>
<text x="0" y="0" class="yl" text-anchor="end" transform="translate(61.0 473.35) scale(0.92 1)">0</text>
<text x="0" y="0" class="yl" text-anchor="end" transform="translate(61.0 499.95) scale(0.92 1)">1</text>
<rect x="36" y="492.15" width="11.8" height="2.1" fill="#000"/>
<text x="0" y="0" class="yl" text-anchor="end" transform="translate(61.0 526.55) scale(0.92 1)">2</text>
<rect x="36" y="518.75" width="11.8" height="2.1" fill="#000"/>
<text x="0" y="0" class="yl" text-anchor="end" transform="translate(61.0 553.15) scale(0.92 1)">3</text>
<rect x="36" y="545.35" width="11.8" height="2.1" fill="#000"/>
<text x="233.75" y="61.50" class="tt1" font-size="20.70" textLength="74.27" lengthAdjust="spacingAndGlyphs">Anomalia</text>
<text x="319.30" y="61.50" class="tt1" font-size="20.70" textLength="45.70" lengthAdjust="spacingAndGlyphs">diaria</text>
<text x="376.30" y="61.50" class="tt1" font-size="20.70" textLength="19.66" lengthAdjust="spacingAndGlyphs">de</text>
<text x="406.00" y="61.50" class="tt1" font-size="20.70" textLength="32.70" lengthAdjust="spacingAndGlyphs">TSM</text>
<text x="448.60" y="61.50" class="tt1" font-size="20.70" textLength="36.36" lengthAdjust="spacingAndGlyphs">Nino</text>
<text x="495.30" y="61.50" class="tt1" font-size="20.70" textLength="27.40" lengthAdjust="spacingAndGlyphs">3.4</text>
<text x="532.82" y="61.50" class="tt1" font-size="20.70" textLength="34.10" lengthAdjust="spacingAndGlyphs">(°C)</text>
<text x="228.75" y="334.00" class="tt2" font-size="20.70" textLength="76.25" lengthAdjust="spacingAndGlyphs">Anomalia</text>
<text x="315.30" y="334.00" class="tt2" font-size="20.70" textLength="44.96" lengthAdjust="spacingAndGlyphs">diaria</text>
<text x="371.56" y="334.00" class="tt2" font-size="20.70" textLength="20.14" lengthAdjust="spacingAndGlyphs">de</text>
<text x="401.00" y="334.00" class="tt2" font-size="20.70" textLength="33.44" lengthAdjust="spacingAndGlyphs">TSM</text>
<text x="444.34" y="334.00" class="tt2" font-size="20.70" textLength="36.36" lengthAdjust="spacingAndGlyphs">Nino</text>
<text x="490.10" y="334.00" class="tt2" font-size="20.70" textLength="36.82" lengthAdjust="spacingAndGlyphs">1+2</text>
<text x="537.30" y="334.00" class="tt2" font-size="20.70" textLength="33.40" lengthAdjust="spacingAndGlyphs">(°C)</text>
<text x="72.55" y="607.70" class="ft" font-size="11.80" textLength="36.13" lengthAdjust="spacingAndGlyphs">Datos:</text>
<text x="114.82" y="607.70" class="ft" font-size="11.80" textLength="29.18" lengthAdjust="spacingAndGlyphs">NOAA</text>
<text x="150.55" y="607.70" class="ft" font-size="11.80" textLength="28.65" lengthAdjust="spacingAndGlyphs">Hires</text>
<text x="185.28" y="607.70" class="ft" font-size="11.80" textLength="10.92" lengthAdjust="spacingAndGlyphs">OI</text>
<text x="202.80" y="607.70" class="ft" font-size="11.80" textLength="24.15" lengthAdjust="spacingAndGlyphs">SST,</text>
<text x="233.05" y="607.70" class="ft" font-size="11.80" textLength="22.65" lengthAdjust="spacingAndGlyphs">RSS</text>
<text x="262.30" y="607.70" class="ft" font-size="11.80" textLength="16.70" lengthAdjust="spacingAndGlyphs">MW</text>
<text x="285.80" y="607.70" class="ft" font-size="11.80" textLength="22.90" lengthAdjust="spacingAndGlyphs">SST,</text>
<text x="322.34" y="607.70" class="ft" font-size="11.80" textLength="110.32" lengthAdjust="spacingAndGlyphs">Procesamiento:IGP.</text>
<text x="545.30" y="589.25" class="ft" font-size="11.80" textLength="35.90" lengthAdjust="spacingAndGlyphs">Ultimo</text>
<text x="588.05" y="589.25" class="ft" font-size="11.80" textLength="55.15" lengthAdjust="spacingAndGlyphs">dato−MW:</text>
<text x="650.55" y="589.25" class="ft" font-size="11.80" textLength="66.40" lengthAdjust="spacingAndGlyphs">15MAR2026</text>
<text x="545.30" y="603.90" class="ft" font-size="11.80" textLength="35.90" lengthAdjust="spacingAndGlyphs">Ultimo</text>
<text x="588.05" y="603.90" class="ft" font-size="11.80" textLength="69.60" lengthAdjust="spacingAndGlyphs">dato−OISST:</text>
<text x="664.30" y="603.90" class="ft" font-size="11.80" textLength="65.70" lengthAdjust="spacingAndGlyphs">13MAR2026</text>
<text x="545.30" y="614.75" class="ft" font-size="11.80" textLength="35.90" lengthAdjust="spacingAndGlyphs">Ultimo</text>
<text x="588.05" y="614.75" class="ft" font-size="11.80" textLength="68.15" lengthAdjust="spacingAndGlyphs">dato−OSTIA:</text>
<text x="663.00" y="614.75" class="ft" font-size="11.80" textLength="66.45" lengthAdjust="spacingAndGlyphs">09MAR2026</text>
<text x="607.06" y="86.30" class="lg" font-size="11.50" textLength="76.92" lengthAdjust="spacingAndGlyphs">2024−25−26</text>
<text x="690.30" y="86.30" class="lg" font-size="11.50" textLength="11.38" lengthAdjust="spacingAndGlyphs">IR</text>
<text x="607.06" y="99.90" class="lg" font-size="11.50" textLength="76.92" lengthAdjust="spacingAndGlyphs">2024−25−26</text>
<text x="690.30" y="99.90" class="lg" font-size="11.50" textLength="17.70" lengthAdjust="spacingAndGlyphs">MW</text>
<text x="607.06" y="113.50" class="lg" font-size="11.50" textLength="76.92" lengthAdjust="spacingAndGlyphs">2024−25−26</text>
<text x="691.00" y="113.50" class="lg" font-size="11.50" textLength="30.00" lengthAdjust="spacingAndGlyphs">OSTIA</text>
<text x="606.36" y="127.10" class="lg" font-size="11.50" textLength="77.62" lengthAdjust="spacingAndGlyphs">1971−72−73</text>
<text x="606.36" y="140.70" class="lg" font-size="11.50" textLength="77.62" lengthAdjust="spacingAndGlyphs">1981−82−83</text>
<text x="606.36" y="154.30" class="lg" font-size="11.50" textLength="77.62" lengthAdjust="spacingAndGlyphs">1996−97−98</text>
<text x="607.06" y="167.90" class="lg" font-size="11.50" textLength="76.92" lengthAdjust="spacingAndGlyphs">2014−15−16</text>
<text x="607.06" y="181.50" class="lg" font-size="11.50" textLength="76.92" lengthAdjust="spacingAndGlyphs">2016−17−18</text>
<text x="607.06" y="195.10" class="lg" font-size="11.50" textLength="76.92" lengthAdjust="spacingAndGlyphs">2022−23−24</text>
<text x="57.22" y="295.50" class="xl" font-size="20.30" textLength="31.10" lengthAdjust="spacingAndGlyphs">JAN</text>
<text x="110.56" y="295.50" class="xl" font-size="20.30" textLength="32.68" lengthAdjust="spacingAndGlyphs">APR</text>
<text x="167.10" y="295.50" class="xl" font-size="20.30" textLength="27.70" lengthAdjust="spacingAndGlyphs">JUL</text>
<text x="220.61" y="295.50" class="xl" font-size="20.30" textLength="30.20" lengthAdjust="spacingAndGlyphs">OCT</text>
<text x="276.33" y="295.50" class="xl" font-size="20.30" textLength="30.40" lengthAdjust="spacingAndGlyphs">JAN</text>
<text x="328.87" y="295.50" class="xl" font-size="20.30" textLength="32.68" lengthAdjust="spacingAndGlyphs">APR</text>
<text x="385.41" y="295.50" class="xl" font-size="20.30" textLength="27.70" lengthAdjust="spacingAndGlyphs">JUL</text>
<text x="438.93" y="295.50" class="xl" font-size="20.30" textLength="30.20" lengthAdjust="spacingAndGlyphs">OCT</text>
<text x="493.94" y="295.50" class="xl" font-size="20.30" textLength="31.10" lengthAdjust="spacingAndGlyphs">JAN</text>
<text x="547.18" y="295.50" class="xl" font-size="20.30" textLength="32.68" lengthAdjust="spacingAndGlyphs">APR</text>
<text x="603.02" y="295.50" class="xl" font-size="20.30" textLength="27.70" lengthAdjust="spacingAndGlyphs">JUL</text>
<text x="657.24" y="295.50" class="xl" font-size="20.30" textLength="30.20" lengthAdjust="spacingAndGlyphs">OCT</text>
<text x="57.22" y="568.50" class="xl" font-size="20.30" textLength="31.10" lengthAdjust="spacingAndGlyphs">JAN</text>
<text x="110.56" y="568.50" class="xl" font-size="20.30" textLength="32.68" lengthAdjust="spacingAndGlyphs">APR</text>
<text x="167.10" y="568.50" class="xl" font-size="20.30" textLength="27.70" lengthAdjust="spacingAndGlyphs">JUL</text>
<text x="220.61" y="568.50" class="xl" font-size="20.30" textLength="30.20" lengthAdjust="spacingAndGlyphs">OCT</text>
<text x="276.33" y="568.50" class="xl" font-size="20.30" textLength="30.40" lengthAdjust="spacingAndGlyphs">JAN</text>
<text x="328.87" y="568.50" class="xl" font-size="20.30" textLength="32.68" lengthAdjust="spacingAndGlyphs">APR</text>
<text x="385.41" y="568.50" class="xl" font-size="20.30" textLength="27.70" lengthAdjust="spacingAndGlyphs">JUL</text>
<text x="438.93" y="568.50" class="xl" font-size="20.30" textLength="30.20" lengthAdjust="spacingAndGlyphs">OCT</text>
<text x="493.94" y="568.50" class="xl" font-size="20.30" textLength="31.10" lengthAdjust="spacingAndGlyphs">JAN</text>
<text x="547.18" y="568.50" class="xl" font-size="20.30" textLength="32.68" lengthAdjust="spacingAndGlyphs">APR</text>
<text x="603.02" y="568.50" class="xl" font-size="20.30" textLength="27.70" lengthAdjust="spacingAndGlyphs">JUL</text>
<text x="657.24" y="568.50" class="xl" font-size="20.30" textLength="30.20" lengthAdjust="spacingAndGlyphs">OCT</text>
</svg>
</body></html>
